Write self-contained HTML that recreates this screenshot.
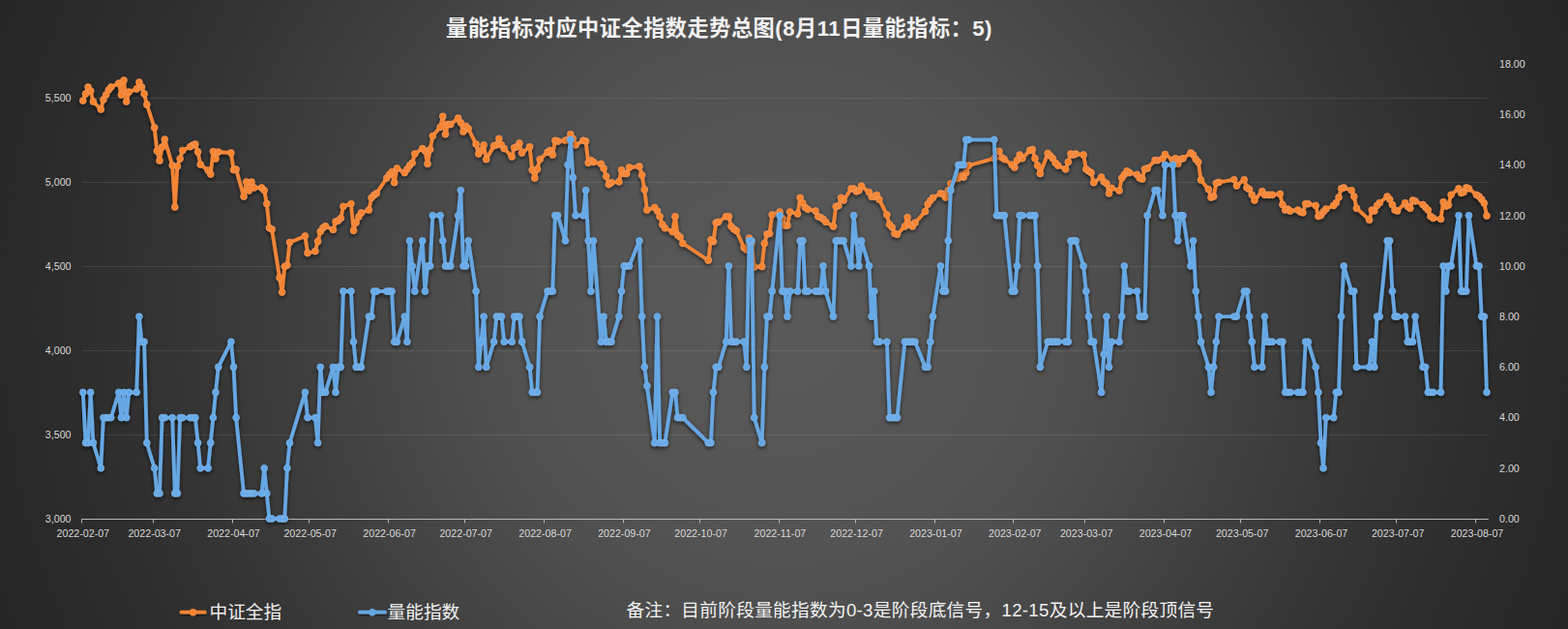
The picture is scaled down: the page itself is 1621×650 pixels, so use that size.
<!DOCTYPE html>
<html lang="zh"><head><meta charset="utf-8"><title>量能指标对应中证全指数走势总图</title>
<style>
html,body{margin:0;padding:0;background:#262626;}
body{width:1621px;height:650px;overflow:hidden;font-family:"Liberation Sans",sans-serif;}
#chart{position:relative;width:1621px;height:650px;background:radial-gradient(circle farthest-corner at 50% 50%,rgb(89,89,89) 0%,rgb(89,89,89) 4%,rgb(88,88,88) 8%,rgb(87,87,87) 12%,rgb(86,86,86) 16%,rgb(85,85,85) 20%,rgb(84,84,84) 24%,rgb(83,83,83) 28%,rgb(81,81,81) 32%,rgb(79,79,79) 36%,rgb(76,76,76) 40%,rgb(73,73,73) 44%,rgb(70,70,70) 48%,rgb(67,67,67) 52%,rgb(64,64,64) 56%,rgb(61,61,61) 60%,rgb(58,58,58) 64%,rgb(55,55,55) 68%,rgb(52,52,52) 72%,rgb(50,50,50) 76%,rgb(47,47,47) 80%,rgb(45,45,45) 84%,rgb(43,43,43) 88%,rgb(41,41,41) 92%,rgb(40,40,40) 96%,rgb(38,38,38) 100%);}
#chart svg{position:absolute;left:0;top:0;display:block}
.sr{position:absolute;left:0;top:0;width:1px;height:1px;overflow:hidden;opacity:0;font-size:1px;color:transparent}
</style></head><body>
<div id="chart">
<div class="sr"><h1>量能指标对应中证全指数走势总图(8月11日量能指标：5)</h1><p>中证全指 量能指数</p><p>备注：目前阶段量能指数为0-3是阶段底信号，12-15及以上是阶段顶信号</p></div>
<svg width="1621" height="650" viewBox="0 0 1621 650" role="img" aria-label="量能指标对应中证全指数走势总图">
<defs><filter id="sh" x="-2%" y="-5%" width="104%" height="112%"><feGaussianBlur in="SourceAlpha" stdDeviation="2"/><feOffset dx="0" dy="2"/><feComponentTransfer><feFuncA type="linear" slope="0.63"/></feComponentTransfer><feMerge><feMergeNode/><feMergeNode in="SourceGraphic"/></feMerge></filter></defs>
<path d="M84.5 449.5H1538.9M84.5 362.5H1538.9M84.5 275.5H1538.9M84.5 188.5H1538.9M84.5 101.5H1538.9" stroke="#f2f2f2" stroke-opacity="0.1" stroke-width="1" fill="none"/>
<path d="M84.5 536.5H1538.9M84.5 536.5v4M158.5 536.5v4M240.5 536.5v4M319.5 536.5v4M401.5 536.5v4M480.5 536.5v4M562.5 536.5v4M644.5 536.5v4M723.5 536.5v4M805.5 536.5v4M884.5 536.5v4M966.5 536.5v4M1047.5 536.5v4M1121.5 536.5v4M1203.5 536.5v4M1282.5 536.5v4M1364.5 536.5v4M1443.5 536.5v4M1525.5 536.5v4" stroke="#b8b8b8" stroke-width="1" fill="none"/>
<g font-family="Liberation Sans, sans-serif" font-size="10.67" fill="#d9d9d9">
<text x="73.5" y="539.8" text-anchor="end">3,000</text>
<text x="73.5" y="452.8" text-anchor="end">3,500</text>
<text x="73.5" y="365.8" text-anchor="end">4,000</text>
<text x="73.5" y="278.8" text-anchor="end">4,500</text>
<text x="73.5" y="191.8" text-anchor="end">5,000</text>
<text x="73.5" y="104.8" text-anchor="end">5,500</text>
<text x="1550" y="539.8">0.00</text>
<text x="1550" y="487.6">2.00</text>
<text x="1550" y="435.4">4.00</text>
<text x="1550" y="383.1">6.00</text>
<text x="1550" y="330.9">8.00</text>
<text x="1550" y="278.7">10.00</text>
<text x="1550" y="226.5">12.00</text>
<text x="1550" y="174.2">14.00</text>
<text x="1550" y="122">16.00</text>
<text x="1550" y="69.8">18.00</text>
<text x="85.8" y="555" text-anchor="middle">2022-02-07</text>
<text x="159.7" y="555" text-anchor="middle">2022-03-07</text>
<text x="241.5" y="555" text-anchor="middle">2022-04-07</text>
<text x="320.7" y="555" text-anchor="middle">2022-05-07</text>
<text x="402.6" y="555" text-anchor="middle">2022-06-07</text>
<text x="481.7" y="555" text-anchor="middle">2022-07-07</text>
<text x="563.6" y="555" text-anchor="middle">2022-08-07</text>
<text x="645.4" y="555" text-anchor="middle">2022-09-07</text>
<text x="724.6" y="555" text-anchor="middle">2022-10-07</text>
<text x="806.4" y="555" text-anchor="middle">2022-11-07</text>
<text x="885.6" y="555" text-anchor="middle">2022-12-07</text>
<text x="967.4" y="555" text-anchor="middle">2023-01-07</text>
<text x="1049.3" y="555" text-anchor="middle">2023-02-07</text>
<text x="1123.2" y="555" text-anchor="middle">2023-03-07</text>
<text x="1205" y="555" text-anchor="middle">2023-04-07</text>
<text x="1284.2" y="555" text-anchor="middle">2023-05-07</text>
<text x="1366" y="555" text-anchor="middle">2023-06-07</text>
<text x="1445.2" y="555" text-anchor="middle">2023-07-07</text>
<text x="1527" y="555" text-anchor="middle">2023-08-07</text>
</g>
<g filter="url(#sh)">
<polyline points="85.8,104 88.5,97 91.1,90 93.7,94 96.4,105 104.3,113 106.9,103 109.6,98 112.2,93 114.8,90 122.8,86 125.4,98 128,83 130.7,105 133.3,95 141.2,92 143.9,85 146.5,90 149.1,97 151.8,108 159.7,132 162.3,156 165,166 167.6,152 170.3,144 178.2,171 180.8,214 183.4,172 186.1,164 188.7,155.5 196.6,151.6 199.3,150 201.9,149 204.6,157 207.2,170 215.1,176 217.7,180 220.4,156.5 223,164 225.7,157 238.9,158 241.5,175.5 244.1,175 252,203 254.7,188 257.3,197 260,188 262.6,194 270.5,194 273.2,196.7 275.8,210.5 278.4,235.5 281.1,237 289,287 291.6,302 294.3,275.4 296.9,274 299.5,250.4 315.4,243.9 318,261.5 325.9,259.6 328.6,249.4 331.2,239.3 333.8,235.5 336.5,233.7 344.4,237.4 347,229 349.7,228 352.3,225.5 354.9,213.3 362.9,210.6 365.5,238.3 368.1,230 370.8,224 373.4,220 381.3,217 384,204.4 386.6,201.7 389.2,199.8 399.8,184 402.4,180.4 405.1,177.6 407.7,188.7 410.4,173.9 418.3,178.5 420.9,174.8 423.5,171 426.2,168.3 428.8,159 436.7,153.5 439.4,156 442,169.3 444.7,154.4 447.3,140.6 455.2,131.3 457.8,120.2 460.5,138.7 463.1,128.5 465.8,128.5 473.7,122 476.3,126.7 479,136 481.6,130.4 484.2,133 492.1,148.9 494.8,159 497.4,155.4 500.1,149.8 502.7,164.6 510.6,150.7 513.3,149.8 515.9,143.3 518.5,149.8 521.2,153.5 529.1,161.9 531.7,152.6 534.4,151.7 537,148 539.6,158 547.6,151.7 550.2,175.7 552.8,184 555.5,174.8 558.1,164.6 566,157.2 568.7,155.4 571.3,160 573.9,145.2 576.6,146 584.5,145.2 587.1,144.3 589.8,138.7 592.4,143.3 595.1,149.8 603,145.2 605.6,146 608.2,168.3 610.9,165.6 613.5,167.4 621.4,169.3 624.1,173.9 626.7,182.2 629.4,190.6 632,188.7 639.9,187.8 642.5,175.7 645.2,179.4 647.8,179.4 650.5,173 661,172 663.7,181 666.3,196 668.9,217 676.8,214.4 679.5,218 682.1,223.7 684.8,232 687.4,235.7 695.3,239.4 698,223.7 700.6,243 703.2,245 705.9,251.5 732.3,269 734.9,247.8 737.5,249.6 740.2,230.2 742.8,229.3 750.7,223.7 753.4,223.7 756,233.9 758.6,236.7 761.3,238.5 769.2,256 771.8,258 774.5,246 777.1,252 779.7,276 787.7,275.5 790.3,251.5 792.9,242 795.6,241.3 798.2,221.9 806.1,219 808.8,225.6 811.4,233 814,233 816.7,219 824.6,221 827.2,204.3 829.9,209.8 832.5,214.4 835.2,216.3 843.1,218 845.7,223.7 848.3,224.6 851,226.5 853.6,229.3 861.5,233.9 864.2,213.5 866.8,212.6 869.5,204.3 872.1,207 880,195 882.6,195 885.3,197.8 887.9,196.9 890.6,192.2 898.5,198.7 901.1,203.3 903.8,203.3 906.4,201.5 909,206.1 916.9,221.9 919.6,232 922.2,234.8 924.9,241.3 927.5,242.2 935.4,233.9 938.1,224.6 940.7,232 943.3,233.9 946,230.2 956.5,218.5 959.2,211 961.8,207.2 964.4,204.4 972.4,199.8 975,200.7 977.6,204 980.3,197 982.9,189.6 990.8,184 993.5,181.3 996.1,183 998.7,178.5 1001.4,171 1027.8,163.7 1030.4,156.3 1033,156.3 1035.7,162.8 1038.3,164.6 1046.2,170.2 1048.9,173 1051.5,165.6 1054.1,160 1056.8,163.7 1064.7,155.4 1067.3,154.4 1070,163.7 1072.6,171 1075.3,179.4 1083.2,158.5 1085.8,161 1088.5,163.7 1091.1,168.3 1093.7,171 1101.6,174.8 1104.3,167.4 1106.9,159 1109.6,160 1112.2,159 1120.1,160 1122.8,174.8 1125.4,176.7 1128,178.5 1130.7,188.7 1138.6,183 1141.2,187.8 1143.9,189.6 1146.5,199.8 1149.1,194.3 1157.1,197 1159.7,184 1162.3,180.4 1165,176.7 1167.6,178.5 1175.5,180.4 1178.2,184 1180.8,185 1183.4,174.8 1186.1,173.9 1194,165.6 1196.6,165.6 1201.9,164 1204.5,159.5 1212.5,165.6 1215.1,163.7 1217.7,169.3 1220.4,164.6 1223,163.7 1230.9,158 1233.6,160 1236.2,164.6 1238.8,167.4 1241.5,186 1249.4,195.7 1252,204 1254.7,203 1257.3,189.3 1260,188.3 1275.8,185.6 1278.4,192 1286.3,185.6 1289,193.9 1291.6,195.7 1294.3,201.3 1296.9,206.9 1304.8,197.6 1307.4,201.3 1310.1,201.3 1312.7,201.3 1315.4,201.3 1323.3,200.4 1325.9,211.5 1328.6,217 1331.2,216 1333.8,218 1341.7,217 1344.4,218.9 1347,219.8 1349.7,210.6 1352.3,210.6 1360.2,212.4 1362.9,223.5 1365.5,222.6 1368.1,218.9 1370.8,216 1378.7,212.4 1381.3,209.6 1384,204 1386.6,194.8 1389.2,193.9 1397.2,196.7 1399.8,203 1402.4,215.2 1415.6,227.2 1418.3,217 1420.9,218 1423.5,212.4 1426.2,209.6 1434.1,203 1436.7,206 1439.4,211.5 1442,217 1444.6,218 1452.6,209.6 1455.2,213.3 1457.8,215.2 1460.5,206.9 1463.1,207.8 1471,211.5 1473.7,214.3 1476.3,217 1478.9,223.5 1481.6,225.4 1489.5,226.3 1492.1,208.7 1494.8,213 1497.4,212 1500.1,201.3 1508,194.8 1510.6,199.4 1513.2,198.5 1515.9,193.9 1518.5,194.8 1526.4,201.3 1529.1,203 1531.7,206 1534.4,210 1537,223" fill="none" stroke="#f28536" stroke-width="3.8" stroke-linejoin="round" stroke-linecap="round"/>
<path d="M82.4 104a3.4 3.4 0 1 0 6.8 0a3.4 3.4 0 1 0 -6.8 0M85.1 97a3.4 3.4 0 1 0 6.8 0a3.4 3.4 0 1 0 -6.8 0M87.7 90a3.4 3.4 0 1 0 6.8 0a3.4 3.4 0 1 0 -6.8 0M90.3 94a3.4 3.4 0 1 0 6.8 0a3.4 3.4 0 1 0 -6.8 0M93 105a3.4 3.4 0 1 0 6.8 0a3.4 3.4 0 1 0 -6.8 0M100.9 113a3.4 3.4 0 1 0 6.8 0a3.4 3.4 0 1 0 -6.8 0M103.5 103a3.4 3.4 0 1 0 6.8 0a3.4 3.4 0 1 0 -6.8 0M106.2 98a3.4 3.4 0 1 0 6.8 0a3.4 3.4 0 1 0 -6.8 0M108.8 93a3.4 3.4 0 1 0 6.8 0a3.4 3.4 0 1 0 -6.8 0M111.4 90a3.4 3.4 0 1 0 6.8 0a3.4 3.4 0 1 0 -6.8 0M119.4 86a3.4 3.4 0 1 0 6.8 0a3.4 3.4 0 1 0 -6.8 0M122 98a3.4 3.4 0 1 0 6.8 0a3.4 3.4 0 1 0 -6.8 0M124.6 83a3.4 3.4 0 1 0 6.8 0a3.4 3.4 0 1 0 -6.8 0M127.3 105a3.4 3.4 0 1 0 6.8 0a3.4 3.4 0 1 0 -6.8 0M129.9 95a3.4 3.4 0 1 0 6.8 0a3.4 3.4 0 1 0 -6.8 0M137.8 92a3.4 3.4 0 1 0 6.8 0a3.4 3.4 0 1 0 -6.8 0M140.5 85a3.4 3.4 0 1 0 6.8 0a3.4 3.4 0 1 0 -6.8 0M143.1 90a3.4 3.4 0 1 0 6.8 0a3.4 3.4 0 1 0 -6.8 0M145.7 97a3.4 3.4 0 1 0 6.8 0a3.4 3.4 0 1 0 -6.8 0M148.4 108a3.4 3.4 0 1 0 6.8 0a3.4 3.4 0 1 0 -6.8 0M156.3 132a3.4 3.4 0 1 0 6.8 0a3.4 3.4 0 1 0 -6.8 0M158.9 156a3.4 3.4 0 1 0 6.8 0a3.4 3.4 0 1 0 -6.8 0M161.6 166a3.4 3.4 0 1 0 6.8 0a3.4 3.4 0 1 0 -6.8 0M164.2 152a3.4 3.4 0 1 0 6.8 0a3.4 3.4 0 1 0 -6.8 0M166.9 144a3.4 3.4 0 1 0 6.8 0a3.4 3.4 0 1 0 -6.8 0M174.8 171a3.4 3.4 0 1 0 6.8 0a3.4 3.4 0 1 0 -6.8 0M177.4 214a3.4 3.4 0 1 0 6.8 0a3.4 3.4 0 1 0 -6.8 0M180 172a3.4 3.4 0 1 0 6.8 0a3.4 3.4 0 1 0 -6.8 0M182.7 164a3.4 3.4 0 1 0 6.8 0a3.4 3.4 0 1 0 -6.8 0M185.3 155.5a3.4 3.4 0 1 0 6.8 0a3.4 3.4 0 1 0 -6.8 0M193.2 151.6a3.4 3.4 0 1 0 6.8 0a3.4 3.4 0 1 0 -6.8 0M195.9 150a3.4 3.4 0 1 0 6.8 0a3.4 3.4 0 1 0 -6.8 0M198.5 149a3.4 3.4 0 1 0 6.8 0a3.4 3.4 0 1 0 -6.8 0M201.2 157a3.4 3.4 0 1 0 6.8 0a3.4 3.4 0 1 0 -6.8 0M203.8 170a3.4 3.4 0 1 0 6.8 0a3.4 3.4 0 1 0 -6.8 0M211.7 176a3.4 3.4 0 1 0 6.8 0a3.4 3.4 0 1 0 -6.8 0M214.3 180a3.4 3.4 0 1 0 6.8 0a3.4 3.4 0 1 0 -6.8 0M217 156.5a3.4 3.4 0 1 0 6.8 0a3.4 3.4 0 1 0 -6.8 0M219.6 164a3.4 3.4 0 1 0 6.8 0a3.4 3.4 0 1 0 -6.8 0M222.3 157a3.4 3.4 0 1 0 6.8 0a3.4 3.4 0 1 0 -6.8 0M235.5 158a3.4 3.4 0 1 0 6.8 0a3.4 3.4 0 1 0 -6.8 0M238.1 175.5a3.4 3.4 0 1 0 6.8 0a3.4 3.4 0 1 0 -6.8 0M240.7 175a3.4 3.4 0 1 0 6.8 0a3.4 3.4 0 1 0 -6.8 0M248.6 203a3.4 3.4 0 1 0 6.8 0a3.4 3.4 0 1 0 -6.8 0M251.3 188a3.4 3.4 0 1 0 6.8 0a3.4 3.4 0 1 0 -6.8 0M253.9 197a3.4 3.4 0 1 0 6.8 0a3.4 3.4 0 1 0 -6.8 0M256.6 188a3.4 3.4 0 1 0 6.8 0a3.4 3.4 0 1 0 -6.8 0M259.2 194a3.4 3.4 0 1 0 6.8 0a3.4 3.4 0 1 0 -6.8 0M267.1 194a3.4 3.4 0 1 0 6.8 0a3.4 3.4 0 1 0 -6.8 0M269.8 196.7a3.4 3.4 0 1 0 6.8 0a3.4 3.4 0 1 0 -6.8 0M272.4 210.5a3.4 3.4 0 1 0 6.8 0a3.4 3.4 0 1 0 -6.8 0M275 235.5a3.4 3.4 0 1 0 6.8 0a3.4 3.4 0 1 0 -6.8 0M277.7 237a3.4 3.4 0 1 0 6.8 0a3.4 3.4 0 1 0 -6.8 0M285.6 287a3.4 3.4 0 1 0 6.8 0a3.4 3.4 0 1 0 -6.8 0M288.2 302a3.4 3.4 0 1 0 6.8 0a3.4 3.4 0 1 0 -6.8 0M290.9 275.4a3.4 3.4 0 1 0 6.8 0a3.4 3.4 0 1 0 -6.8 0M293.5 274a3.4 3.4 0 1 0 6.8 0a3.4 3.4 0 1 0 -6.8 0M296.1 250.4a3.4 3.4 0 1 0 6.8 0a3.4 3.4 0 1 0 -6.8 0M312 243.9a3.4 3.4 0 1 0 6.8 0a3.4 3.4 0 1 0 -6.8 0M314.6 261.5a3.4 3.4 0 1 0 6.8 0a3.4 3.4 0 1 0 -6.8 0M322.5 259.6a3.4 3.4 0 1 0 6.8 0a3.4 3.4 0 1 0 -6.8 0M325.2 249.4a3.4 3.4 0 1 0 6.8 0a3.4 3.4 0 1 0 -6.8 0M327.8 239.3a3.4 3.4 0 1 0 6.8 0a3.4 3.4 0 1 0 -6.8 0M330.4 235.5a3.4 3.4 0 1 0 6.8 0a3.4 3.4 0 1 0 -6.8 0M333.1 233.7a3.4 3.4 0 1 0 6.8 0a3.4 3.4 0 1 0 -6.8 0M341 237.4a3.4 3.4 0 1 0 6.8 0a3.4 3.4 0 1 0 -6.8 0M343.6 229a3.4 3.4 0 1 0 6.8 0a3.4 3.4 0 1 0 -6.8 0M346.3 228a3.4 3.4 0 1 0 6.8 0a3.4 3.4 0 1 0 -6.8 0M348.9 225.5a3.4 3.4 0 1 0 6.8 0a3.4 3.4 0 1 0 -6.8 0M351.5 213.3a3.4 3.4 0 1 0 6.8 0a3.4 3.4 0 1 0 -6.8 0M359.5 210.6a3.4 3.4 0 1 0 6.8 0a3.4 3.4 0 1 0 -6.8 0M362.1 238.3a3.4 3.4 0 1 0 6.8 0a3.4 3.4 0 1 0 -6.8 0M364.7 230a3.4 3.4 0 1 0 6.8 0a3.4 3.4 0 1 0 -6.8 0M367.4 224a3.4 3.4 0 1 0 6.8 0a3.4 3.4 0 1 0 -6.8 0M370 220a3.4 3.4 0 1 0 6.8 0a3.4 3.4 0 1 0 -6.8 0M377.9 217a3.4 3.4 0 1 0 6.8 0a3.4 3.4 0 1 0 -6.8 0M380.6 204.4a3.4 3.4 0 1 0 6.8 0a3.4 3.4 0 1 0 -6.8 0M383.2 201.7a3.4 3.4 0 1 0 6.8 0a3.4 3.4 0 1 0 -6.8 0M385.8 199.8a3.4 3.4 0 1 0 6.8 0a3.4 3.4 0 1 0 -6.8 0M396.4 184a3.4 3.4 0 1 0 6.8 0a3.4 3.4 0 1 0 -6.8 0M399 180.4a3.4 3.4 0 1 0 6.8 0a3.4 3.4 0 1 0 -6.8 0M401.7 177.6a3.4 3.4 0 1 0 6.8 0a3.4 3.4 0 1 0 -6.8 0M404.3 188.7a3.4 3.4 0 1 0 6.8 0a3.4 3.4 0 1 0 -6.8 0M407 173.9a3.4 3.4 0 1 0 6.8 0a3.4 3.4 0 1 0 -6.8 0M414.9 178.5a3.4 3.4 0 1 0 6.8 0a3.4 3.4 0 1 0 -6.8 0M417.5 174.8a3.4 3.4 0 1 0 6.8 0a3.4 3.4 0 1 0 -6.8 0M420.1 171a3.4 3.4 0 1 0 6.8 0a3.4 3.4 0 1 0 -6.8 0M422.8 168.3a3.4 3.4 0 1 0 6.8 0a3.4 3.4 0 1 0 -6.8 0M425.4 159a3.4 3.4 0 1 0 6.8 0a3.4 3.4 0 1 0 -6.8 0M433.3 153.5a3.4 3.4 0 1 0 6.8 0a3.4 3.4 0 1 0 -6.8 0M436 156a3.4 3.4 0 1 0 6.8 0a3.4 3.4 0 1 0 -6.8 0M438.6 169.3a3.4 3.4 0 1 0 6.8 0a3.4 3.4 0 1 0 -6.8 0M441.3 154.4a3.4 3.4 0 1 0 6.8 0a3.4 3.4 0 1 0 -6.8 0M443.9 140.6a3.4 3.4 0 1 0 6.8 0a3.4 3.4 0 1 0 -6.8 0M451.8 131.3a3.4 3.4 0 1 0 6.8 0a3.4 3.4 0 1 0 -6.8 0M454.4 120.2a3.4 3.4 0 1 0 6.8 0a3.4 3.4 0 1 0 -6.8 0M457.1 138.7a3.4 3.4 0 1 0 6.8 0a3.4 3.4 0 1 0 -6.8 0M459.7 128.5a3.4 3.4 0 1 0 6.8 0a3.4 3.4 0 1 0 -6.8 0M462.4 128.5a3.4 3.4 0 1 0 6.8 0a3.4 3.4 0 1 0 -6.8 0M470.3 122a3.4 3.4 0 1 0 6.8 0a3.4 3.4 0 1 0 -6.8 0M472.9 126.7a3.4 3.4 0 1 0 6.8 0a3.4 3.4 0 1 0 -6.8 0M475.6 136a3.4 3.4 0 1 0 6.8 0a3.4 3.4 0 1 0 -6.8 0M478.2 130.4a3.4 3.4 0 1 0 6.8 0a3.4 3.4 0 1 0 -6.8 0M480.8 133a3.4 3.4 0 1 0 6.8 0a3.4 3.4 0 1 0 -6.8 0M488.7 148.9a3.4 3.4 0 1 0 6.8 0a3.4 3.4 0 1 0 -6.8 0M491.4 159a3.4 3.4 0 1 0 6.8 0a3.4 3.4 0 1 0 -6.8 0M494 155.4a3.4 3.4 0 1 0 6.8 0a3.4 3.4 0 1 0 -6.8 0M496.7 149.8a3.4 3.4 0 1 0 6.8 0a3.4 3.4 0 1 0 -6.8 0M499.3 164.6a3.4 3.4 0 1 0 6.8 0a3.4 3.4 0 1 0 -6.8 0M507.2 150.7a3.4 3.4 0 1 0 6.8 0a3.4 3.4 0 1 0 -6.8 0M509.9 149.8a3.4 3.4 0 1 0 6.8 0a3.4 3.4 0 1 0 -6.8 0M512.5 143.3a3.4 3.4 0 1 0 6.8 0a3.4 3.4 0 1 0 -6.8 0M515.1 149.8a3.4 3.4 0 1 0 6.8 0a3.4 3.4 0 1 0 -6.8 0M517.8 153.5a3.4 3.4 0 1 0 6.8 0a3.4 3.4 0 1 0 -6.8 0M525.7 161.9a3.4 3.4 0 1 0 6.8 0a3.4 3.4 0 1 0 -6.8 0M528.3 152.6a3.4 3.4 0 1 0 6.8 0a3.4 3.4 0 1 0 -6.8 0M531 151.7a3.4 3.4 0 1 0 6.8 0a3.4 3.4 0 1 0 -6.8 0M533.6 148a3.4 3.4 0 1 0 6.8 0a3.4 3.4 0 1 0 -6.8 0M536.2 158a3.4 3.4 0 1 0 6.8 0a3.4 3.4 0 1 0 -6.8 0M544.2 151.7a3.4 3.4 0 1 0 6.8 0a3.4 3.4 0 1 0 -6.8 0M546.8 175.7a3.4 3.4 0 1 0 6.8 0a3.4 3.4 0 1 0 -6.8 0M549.4 184a3.4 3.4 0 1 0 6.8 0a3.4 3.4 0 1 0 -6.8 0M552.1 174.8a3.4 3.4 0 1 0 6.8 0a3.4 3.4 0 1 0 -6.8 0M554.7 164.6a3.4 3.4 0 1 0 6.8 0a3.4 3.4 0 1 0 -6.8 0M562.6 157.2a3.4 3.4 0 1 0 6.8 0a3.4 3.4 0 1 0 -6.8 0M565.3 155.4a3.4 3.4 0 1 0 6.8 0a3.4 3.4 0 1 0 -6.8 0M567.9 160a3.4 3.4 0 1 0 6.8 0a3.4 3.4 0 1 0 -6.8 0M570.5 145.2a3.4 3.4 0 1 0 6.8 0a3.4 3.4 0 1 0 -6.8 0M573.2 146a3.4 3.4 0 1 0 6.8 0a3.4 3.4 0 1 0 -6.8 0M581.1 145.2a3.4 3.4 0 1 0 6.8 0a3.4 3.4 0 1 0 -6.8 0M583.7 144.3a3.4 3.4 0 1 0 6.8 0a3.4 3.4 0 1 0 -6.8 0M586.4 138.7a3.4 3.4 0 1 0 6.8 0a3.4 3.4 0 1 0 -6.8 0M589 143.3a3.4 3.4 0 1 0 6.8 0a3.4 3.4 0 1 0 -6.8 0M591.7 149.8a3.4 3.4 0 1 0 6.8 0a3.4 3.4 0 1 0 -6.8 0M599.6 145.2a3.4 3.4 0 1 0 6.8 0a3.4 3.4 0 1 0 -6.8 0M602.2 146a3.4 3.4 0 1 0 6.8 0a3.4 3.4 0 1 0 -6.8 0M604.8 168.3a3.4 3.4 0 1 0 6.8 0a3.4 3.4 0 1 0 -6.8 0M607.5 165.6a3.4 3.4 0 1 0 6.8 0a3.4 3.4 0 1 0 -6.8 0M610.1 167.4a3.4 3.4 0 1 0 6.8 0a3.4 3.4 0 1 0 -6.8 0M618 169.3a3.4 3.4 0 1 0 6.8 0a3.4 3.4 0 1 0 -6.8 0M620.7 173.9a3.4 3.4 0 1 0 6.8 0a3.4 3.4 0 1 0 -6.8 0M623.3 182.2a3.4 3.4 0 1 0 6.8 0a3.4 3.4 0 1 0 -6.8 0M626 190.6a3.4 3.4 0 1 0 6.8 0a3.4 3.4 0 1 0 -6.8 0M628.6 188.7a3.4 3.4 0 1 0 6.8 0a3.4 3.4 0 1 0 -6.8 0M636.5 187.8a3.4 3.4 0 1 0 6.8 0a3.4 3.4 0 1 0 -6.8 0M639.1 175.7a3.4 3.4 0 1 0 6.8 0a3.4 3.4 0 1 0 -6.8 0M641.8 179.4a3.4 3.4 0 1 0 6.8 0a3.4 3.4 0 1 0 -6.8 0M644.4 179.4a3.4 3.4 0 1 0 6.8 0a3.4 3.4 0 1 0 -6.8 0M647.1 173a3.4 3.4 0 1 0 6.8 0a3.4 3.4 0 1 0 -6.8 0M657.6 172a3.4 3.4 0 1 0 6.8 0a3.4 3.4 0 1 0 -6.8 0M660.3 181a3.4 3.4 0 1 0 6.8 0a3.4 3.4 0 1 0 -6.8 0M662.9 196a3.4 3.4 0 1 0 6.8 0a3.4 3.4 0 1 0 -6.8 0M665.5 217a3.4 3.4 0 1 0 6.8 0a3.4 3.4 0 1 0 -6.8 0M673.4 214.4a3.4 3.4 0 1 0 6.8 0a3.4 3.4 0 1 0 -6.8 0M676.1 218a3.4 3.4 0 1 0 6.8 0a3.4 3.4 0 1 0 -6.8 0M678.7 223.7a3.4 3.4 0 1 0 6.8 0a3.4 3.4 0 1 0 -6.8 0M681.4 232a3.4 3.4 0 1 0 6.8 0a3.4 3.4 0 1 0 -6.8 0M684 235.7a3.4 3.4 0 1 0 6.8 0a3.4 3.4 0 1 0 -6.8 0M691.9 239.4a3.4 3.4 0 1 0 6.8 0a3.4 3.4 0 1 0 -6.8 0M694.6 223.7a3.4 3.4 0 1 0 6.8 0a3.4 3.4 0 1 0 -6.8 0M697.2 243a3.4 3.4 0 1 0 6.8 0a3.4 3.4 0 1 0 -6.8 0M699.8 245a3.4 3.4 0 1 0 6.8 0a3.4 3.4 0 1 0 -6.8 0M702.5 251.5a3.4 3.4 0 1 0 6.8 0a3.4 3.4 0 1 0 -6.8 0M728.9 269a3.4 3.4 0 1 0 6.8 0a3.4 3.4 0 1 0 -6.8 0M731.5 247.8a3.4 3.4 0 1 0 6.8 0a3.4 3.4 0 1 0 -6.8 0M734.1 249.6a3.4 3.4 0 1 0 6.8 0a3.4 3.4 0 1 0 -6.8 0M736.8 230.2a3.4 3.4 0 1 0 6.8 0a3.4 3.4 0 1 0 -6.8 0M739.4 229.3a3.4 3.4 0 1 0 6.8 0a3.4 3.4 0 1 0 -6.8 0M747.3 223.7a3.4 3.4 0 1 0 6.8 0a3.4 3.4 0 1 0 -6.8 0M750 223.7a3.4 3.4 0 1 0 6.8 0a3.4 3.4 0 1 0 -6.8 0M752.6 233.9a3.4 3.4 0 1 0 6.8 0a3.4 3.4 0 1 0 -6.8 0M755.2 236.7a3.4 3.4 0 1 0 6.8 0a3.4 3.4 0 1 0 -6.8 0M757.9 238.5a3.4 3.4 0 1 0 6.8 0a3.4 3.4 0 1 0 -6.8 0M765.8 256a3.4 3.4 0 1 0 6.8 0a3.4 3.4 0 1 0 -6.8 0M768.4 258a3.4 3.4 0 1 0 6.8 0a3.4 3.4 0 1 0 -6.8 0M771.1 246a3.4 3.4 0 1 0 6.8 0a3.4 3.4 0 1 0 -6.8 0M773.7 252a3.4 3.4 0 1 0 6.8 0a3.4 3.4 0 1 0 -6.8 0M776.3 276a3.4 3.4 0 1 0 6.8 0a3.4 3.4 0 1 0 -6.8 0M784.3 275.5a3.4 3.4 0 1 0 6.8 0a3.4 3.4 0 1 0 -6.8 0M786.9 251.5a3.4 3.4 0 1 0 6.8 0a3.4 3.4 0 1 0 -6.8 0M789.5 242a3.4 3.4 0 1 0 6.8 0a3.4 3.4 0 1 0 -6.8 0M792.2 241.3a3.4 3.4 0 1 0 6.8 0a3.4 3.4 0 1 0 -6.8 0M794.8 221.9a3.4 3.4 0 1 0 6.8 0a3.4 3.4 0 1 0 -6.8 0M802.7 219a3.4 3.4 0 1 0 6.8 0a3.4 3.4 0 1 0 -6.8 0M805.4 225.6a3.4 3.4 0 1 0 6.8 0a3.4 3.4 0 1 0 -6.8 0M808 233a3.4 3.4 0 1 0 6.8 0a3.4 3.4 0 1 0 -6.8 0M810.6 233a3.4 3.4 0 1 0 6.8 0a3.4 3.4 0 1 0 -6.8 0M813.3 219a3.4 3.4 0 1 0 6.8 0a3.4 3.4 0 1 0 -6.8 0M821.2 221a3.4 3.4 0 1 0 6.8 0a3.4 3.4 0 1 0 -6.8 0M823.8 204.3a3.4 3.4 0 1 0 6.8 0a3.4 3.4 0 1 0 -6.8 0M826.5 209.8a3.4 3.4 0 1 0 6.8 0a3.4 3.4 0 1 0 -6.8 0M829.1 214.4a3.4 3.4 0 1 0 6.8 0a3.4 3.4 0 1 0 -6.8 0M831.8 216.3a3.4 3.4 0 1 0 6.8 0a3.4 3.4 0 1 0 -6.8 0M839.7 218a3.4 3.4 0 1 0 6.8 0a3.4 3.4 0 1 0 -6.8 0M842.3 223.7a3.4 3.4 0 1 0 6.8 0a3.4 3.4 0 1 0 -6.8 0M844.9 224.6a3.4 3.4 0 1 0 6.8 0a3.4 3.4 0 1 0 -6.8 0M847.6 226.5a3.4 3.4 0 1 0 6.8 0a3.4 3.4 0 1 0 -6.8 0M850.2 229.3a3.4 3.4 0 1 0 6.8 0a3.4 3.4 0 1 0 -6.8 0M858.1 233.9a3.4 3.4 0 1 0 6.8 0a3.4 3.4 0 1 0 -6.8 0M860.8 213.5a3.4 3.4 0 1 0 6.8 0a3.4 3.4 0 1 0 -6.8 0M863.4 212.6a3.4 3.4 0 1 0 6.8 0a3.4 3.4 0 1 0 -6.8 0M866.1 204.3a3.4 3.4 0 1 0 6.8 0a3.4 3.4 0 1 0 -6.8 0M868.7 207a3.4 3.4 0 1 0 6.8 0a3.4 3.4 0 1 0 -6.8 0M876.6 195a3.4 3.4 0 1 0 6.8 0a3.4 3.4 0 1 0 -6.8 0M879.2 195a3.4 3.4 0 1 0 6.8 0a3.4 3.4 0 1 0 -6.8 0M881.9 197.8a3.4 3.4 0 1 0 6.8 0a3.4 3.4 0 1 0 -6.8 0M884.5 196.9a3.4 3.4 0 1 0 6.8 0a3.4 3.4 0 1 0 -6.8 0M887.2 192.2a3.4 3.4 0 1 0 6.8 0a3.4 3.4 0 1 0 -6.8 0M895.1 198.7a3.4 3.4 0 1 0 6.8 0a3.4 3.4 0 1 0 -6.8 0M897.7 203.3a3.4 3.4 0 1 0 6.8 0a3.4 3.4 0 1 0 -6.8 0M900.4 203.3a3.4 3.4 0 1 0 6.8 0a3.4 3.4 0 1 0 -6.8 0M903 201.5a3.4 3.4 0 1 0 6.8 0a3.4 3.4 0 1 0 -6.8 0M905.6 206.1a3.4 3.4 0 1 0 6.8 0a3.4 3.4 0 1 0 -6.8 0M913.5 221.9a3.4 3.4 0 1 0 6.8 0a3.4 3.4 0 1 0 -6.8 0M916.2 232a3.4 3.4 0 1 0 6.8 0a3.4 3.4 0 1 0 -6.8 0M918.8 234.8a3.4 3.4 0 1 0 6.8 0a3.4 3.4 0 1 0 -6.8 0M921.5 241.3a3.4 3.4 0 1 0 6.8 0a3.4 3.4 0 1 0 -6.8 0M924.1 242.2a3.4 3.4 0 1 0 6.8 0a3.4 3.4 0 1 0 -6.8 0M932 233.9a3.4 3.4 0 1 0 6.8 0a3.4 3.4 0 1 0 -6.8 0M934.7 224.6a3.4 3.4 0 1 0 6.8 0a3.4 3.4 0 1 0 -6.8 0M937.3 232a3.4 3.4 0 1 0 6.8 0a3.4 3.4 0 1 0 -6.8 0M939.9 233.9a3.4 3.4 0 1 0 6.8 0a3.4 3.4 0 1 0 -6.8 0M942.6 230.2a3.4 3.4 0 1 0 6.8 0a3.4 3.4 0 1 0 -6.8 0M953.1 218.5a3.4 3.4 0 1 0 6.8 0a3.4 3.4 0 1 0 -6.8 0M955.8 211a3.4 3.4 0 1 0 6.8 0a3.4 3.4 0 1 0 -6.8 0M958.4 207.2a3.4 3.4 0 1 0 6.8 0a3.4 3.4 0 1 0 -6.8 0M961 204.4a3.4 3.4 0 1 0 6.8 0a3.4 3.4 0 1 0 -6.8 0M969 199.8a3.4 3.4 0 1 0 6.8 0a3.4 3.4 0 1 0 -6.8 0M971.6 200.7a3.4 3.4 0 1 0 6.8 0a3.4 3.4 0 1 0 -6.8 0M974.2 204a3.4 3.4 0 1 0 6.8 0a3.4 3.4 0 1 0 -6.8 0M976.9 197a3.4 3.4 0 1 0 6.8 0a3.4 3.4 0 1 0 -6.8 0M979.5 189.6a3.4 3.4 0 1 0 6.8 0a3.4 3.4 0 1 0 -6.8 0M987.4 184a3.4 3.4 0 1 0 6.8 0a3.4 3.4 0 1 0 -6.8 0M990.1 181.3a3.4 3.4 0 1 0 6.8 0a3.4 3.4 0 1 0 -6.8 0M992.7 183a3.4 3.4 0 1 0 6.8 0a3.4 3.4 0 1 0 -6.8 0M995.3 178.5a3.4 3.4 0 1 0 6.8 0a3.4 3.4 0 1 0 -6.8 0M998 171a3.4 3.4 0 1 0 6.8 0a3.4 3.4 0 1 0 -6.8 0M1024.4 163.7a3.4 3.4 0 1 0 6.8 0a3.4 3.4 0 1 0 -6.8 0M1027 156.3a3.4 3.4 0 1 0 6.8 0a3.4 3.4 0 1 0 -6.8 0M1029.6 156.3a3.4 3.4 0 1 0 6.8 0a3.4 3.4 0 1 0 -6.8 0M1032.3 162.8a3.4 3.4 0 1 0 6.8 0a3.4 3.4 0 1 0 -6.8 0M1034.9 164.6a3.4 3.4 0 1 0 6.8 0a3.4 3.4 0 1 0 -6.8 0M1042.8 170.2a3.4 3.4 0 1 0 6.8 0a3.4 3.4 0 1 0 -6.8 0M1045.5 173a3.4 3.4 0 1 0 6.8 0a3.4 3.4 0 1 0 -6.8 0M1048.1 165.6a3.4 3.4 0 1 0 6.8 0a3.4 3.4 0 1 0 -6.8 0M1050.7 160a3.4 3.4 0 1 0 6.8 0a3.4 3.4 0 1 0 -6.8 0M1053.4 163.7a3.4 3.4 0 1 0 6.8 0a3.4 3.4 0 1 0 -6.8 0M1061.3 155.4a3.4 3.4 0 1 0 6.8 0a3.4 3.4 0 1 0 -6.8 0M1063.9 154.4a3.4 3.4 0 1 0 6.8 0a3.4 3.4 0 1 0 -6.8 0M1066.6 163.7a3.4 3.4 0 1 0 6.8 0a3.4 3.4 0 1 0 -6.8 0M1069.2 171a3.4 3.4 0 1 0 6.8 0a3.4 3.4 0 1 0 -6.8 0M1071.9 179.4a3.4 3.4 0 1 0 6.8 0a3.4 3.4 0 1 0 -6.8 0M1079.8 158.5a3.4 3.4 0 1 0 6.8 0a3.4 3.4 0 1 0 -6.8 0M1082.4 161a3.4 3.4 0 1 0 6.8 0a3.4 3.4 0 1 0 -6.8 0M1085 163.7a3.4 3.4 0 1 0 6.8 0a3.4 3.4 0 1 0 -6.8 0M1087.7 168.3a3.4 3.4 0 1 0 6.8 0a3.4 3.4 0 1 0 -6.8 0M1090.3 171a3.4 3.4 0 1 0 6.8 0a3.4 3.4 0 1 0 -6.8 0M1098.2 174.8a3.4 3.4 0 1 0 6.8 0a3.4 3.4 0 1 0 -6.8 0M1100.9 167.4a3.4 3.4 0 1 0 6.8 0a3.4 3.4 0 1 0 -6.8 0M1103.5 159a3.4 3.4 0 1 0 6.8 0a3.4 3.4 0 1 0 -6.8 0M1106.2 160a3.4 3.4 0 1 0 6.8 0a3.4 3.4 0 1 0 -6.8 0M1108.8 159a3.4 3.4 0 1 0 6.8 0a3.4 3.4 0 1 0 -6.8 0M1116.7 160a3.4 3.4 0 1 0 6.8 0a3.4 3.4 0 1 0 -6.8 0M1119.4 174.8a3.4 3.4 0 1 0 6.8 0a3.4 3.4 0 1 0 -6.8 0M1122 176.7a3.4 3.4 0 1 0 6.8 0a3.4 3.4 0 1 0 -6.8 0M1124.6 178.5a3.4 3.4 0 1 0 6.8 0a3.4 3.4 0 1 0 -6.8 0M1127.3 188.7a3.4 3.4 0 1 0 6.8 0a3.4 3.4 0 1 0 -6.8 0M1135.2 183a3.4 3.4 0 1 0 6.8 0a3.4 3.4 0 1 0 -6.8 0M1137.8 187.8a3.4 3.4 0 1 0 6.8 0a3.4 3.4 0 1 0 -6.8 0M1140.5 189.6a3.4 3.4 0 1 0 6.8 0a3.4 3.4 0 1 0 -6.8 0M1143.1 199.8a3.4 3.4 0 1 0 6.8 0a3.4 3.4 0 1 0 -6.8 0M1145.7 194.3a3.4 3.4 0 1 0 6.8 0a3.4 3.4 0 1 0 -6.8 0M1153.7 197a3.4 3.4 0 1 0 6.8 0a3.4 3.4 0 1 0 -6.8 0M1156.3 184a3.4 3.4 0 1 0 6.8 0a3.4 3.4 0 1 0 -6.8 0M1158.9 180.4a3.4 3.4 0 1 0 6.8 0a3.4 3.4 0 1 0 -6.8 0M1161.6 176.7a3.4 3.4 0 1 0 6.8 0a3.4 3.4 0 1 0 -6.8 0M1164.2 178.5a3.4 3.4 0 1 0 6.8 0a3.4 3.4 0 1 0 -6.8 0M1172.1 180.4a3.4 3.4 0 1 0 6.8 0a3.4 3.4 0 1 0 -6.8 0M1174.8 184a3.4 3.4 0 1 0 6.8 0a3.4 3.4 0 1 0 -6.8 0M1177.4 185a3.4 3.4 0 1 0 6.8 0a3.4 3.4 0 1 0 -6.8 0M1180 174.8a3.4 3.4 0 1 0 6.8 0a3.4 3.4 0 1 0 -6.8 0M1182.7 173.9a3.4 3.4 0 1 0 6.8 0a3.4 3.4 0 1 0 -6.8 0M1190.6 165.6a3.4 3.4 0 1 0 6.8 0a3.4 3.4 0 1 0 -6.8 0M1193.2 165.6a3.4 3.4 0 1 0 6.8 0a3.4 3.4 0 1 0 -6.8 0M1198.5 164a3.4 3.4 0 1 0 6.8 0a3.4 3.4 0 1 0 -6.8 0M1201.1 159.5a3.4 3.4 0 1 0 6.8 0a3.4 3.4 0 1 0 -6.8 0M1209.1 165.6a3.4 3.4 0 1 0 6.8 0a3.4 3.4 0 1 0 -6.8 0M1211.7 163.7a3.4 3.4 0 1 0 6.8 0a3.4 3.4 0 1 0 -6.8 0M1214.3 169.3a3.4 3.4 0 1 0 6.8 0a3.4 3.4 0 1 0 -6.8 0M1217 164.6a3.4 3.4 0 1 0 6.8 0a3.4 3.4 0 1 0 -6.8 0M1219.6 163.7a3.4 3.4 0 1 0 6.8 0a3.4 3.4 0 1 0 -6.8 0M1227.5 158a3.4 3.4 0 1 0 6.8 0a3.4 3.4 0 1 0 -6.8 0M1230.2 160a3.4 3.4 0 1 0 6.8 0a3.4 3.4 0 1 0 -6.8 0M1232.8 164.6a3.4 3.4 0 1 0 6.8 0a3.4 3.4 0 1 0 -6.8 0M1235.4 167.4a3.4 3.4 0 1 0 6.8 0a3.4 3.4 0 1 0 -6.8 0M1238.1 186a3.4 3.4 0 1 0 6.8 0a3.4 3.4 0 1 0 -6.8 0M1246 195.7a3.4 3.4 0 1 0 6.8 0a3.4 3.4 0 1 0 -6.8 0M1248.6 204a3.4 3.4 0 1 0 6.8 0a3.4 3.4 0 1 0 -6.8 0M1251.3 203a3.4 3.4 0 1 0 6.8 0a3.4 3.4 0 1 0 -6.8 0M1253.9 189.3a3.4 3.4 0 1 0 6.8 0a3.4 3.4 0 1 0 -6.8 0M1256.6 188.3a3.4 3.4 0 1 0 6.8 0a3.4 3.4 0 1 0 -6.8 0M1272.4 185.6a3.4 3.4 0 1 0 6.8 0a3.4 3.4 0 1 0 -6.8 0M1275 192a3.4 3.4 0 1 0 6.8 0a3.4 3.4 0 1 0 -6.8 0M1282.9 185.6a3.4 3.4 0 1 0 6.8 0a3.4 3.4 0 1 0 -6.8 0M1285.6 193.9a3.4 3.4 0 1 0 6.8 0a3.4 3.4 0 1 0 -6.8 0M1288.2 195.7a3.4 3.4 0 1 0 6.8 0a3.4 3.4 0 1 0 -6.8 0M1290.9 201.3a3.4 3.4 0 1 0 6.8 0a3.4 3.4 0 1 0 -6.8 0M1293.5 206.9a3.4 3.4 0 1 0 6.8 0a3.4 3.4 0 1 0 -6.8 0M1301.4 197.6a3.4 3.4 0 1 0 6.8 0a3.4 3.4 0 1 0 -6.8 0M1304 201.3a3.4 3.4 0 1 0 6.8 0a3.4 3.4 0 1 0 -6.8 0M1306.7 201.3a3.4 3.4 0 1 0 6.8 0a3.4 3.4 0 1 0 -6.8 0M1309.3 201.3a3.4 3.4 0 1 0 6.8 0a3.4 3.4 0 1 0 -6.8 0M1312 201.3a3.4 3.4 0 1 0 6.8 0a3.4 3.4 0 1 0 -6.8 0M1319.9 200.4a3.4 3.4 0 1 0 6.8 0a3.4 3.4 0 1 0 -6.8 0M1322.5 211.5a3.4 3.4 0 1 0 6.8 0a3.4 3.4 0 1 0 -6.8 0M1325.2 217a3.4 3.4 0 1 0 6.8 0a3.4 3.4 0 1 0 -6.8 0M1327.8 216a3.4 3.4 0 1 0 6.8 0a3.4 3.4 0 1 0 -6.8 0M1330.4 218a3.4 3.4 0 1 0 6.8 0a3.4 3.4 0 1 0 -6.8 0M1338.3 217a3.4 3.4 0 1 0 6.8 0a3.4 3.4 0 1 0 -6.8 0M1341 218.9a3.4 3.4 0 1 0 6.8 0a3.4 3.4 0 1 0 -6.8 0M1343.6 219.8a3.4 3.4 0 1 0 6.8 0a3.4 3.4 0 1 0 -6.8 0M1346.3 210.6a3.4 3.4 0 1 0 6.8 0a3.4 3.4 0 1 0 -6.8 0M1348.9 210.6a3.4 3.4 0 1 0 6.8 0a3.4 3.4 0 1 0 -6.8 0M1356.8 212.4a3.4 3.4 0 1 0 6.8 0a3.4 3.4 0 1 0 -6.8 0M1359.5 223.5a3.4 3.4 0 1 0 6.8 0a3.4 3.4 0 1 0 -6.8 0M1362.1 222.6a3.4 3.4 0 1 0 6.8 0a3.4 3.4 0 1 0 -6.8 0M1364.7 218.9a3.4 3.4 0 1 0 6.8 0a3.4 3.4 0 1 0 -6.8 0M1367.4 216a3.4 3.4 0 1 0 6.8 0a3.4 3.4 0 1 0 -6.8 0M1375.3 212.4a3.4 3.4 0 1 0 6.8 0a3.4 3.4 0 1 0 -6.8 0M1377.9 209.6a3.4 3.4 0 1 0 6.8 0a3.4 3.4 0 1 0 -6.8 0M1380.6 204a3.4 3.4 0 1 0 6.8 0a3.4 3.4 0 1 0 -6.8 0M1383.2 194.8a3.4 3.4 0 1 0 6.8 0a3.4 3.4 0 1 0 -6.8 0M1385.8 193.9a3.4 3.4 0 1 0 6.8 0a3.4 3.4 0 1 0 -6.8 0M1393.8 196.7a3.4 3.4 0 1 0 6.8 0a3.4 3.4 0 1 0 -6.8 0M1396.4 203a3.4 3.4 0 1 0 6.8 0a3.4 3.4 0 1 0 -6.8 0M1399 215.2a3.4 3.4 0 1 0 6.8 0a3.4 3.4 0 1 0 -6.8 0M1412.2 227.2a3.4 3.4 0 1 0 6.8 0a3.4 3.4 0 1 0 -6.8 0M1414.9 217a3.4 3.4 0 1 0 6.8 0a3.4 3.4 0 1 0 -6.8 0M1417.5 218a3.4 3.4 0 1 0 6.8 0a3.4 3.4 0 1 0 -6.8 0M1420.1 212.4a3.4 3.4 0 1 0 6.8 0a3.4 3.4 0 1 0 -6.8 0M1422.8 209.6a3.4 3.4 0 1 0 6.8 0a3.4 3.4 0 1 0 -6.8 0M1430.7 203a3.4 3.4 0 1 0 6.8 0a3.4 3.4 0 1 0 -6.8 0M1433.3 206a3.4 3.4 0 1 0 6.8 0a3.4 3.4 0 1 0 -6.8 0M1436 211.5a3.4 3.4 0 1 0 6.8 0a3.4 3.4 0 1 0 -6.8 0M1438.6 217a3.4 3.4 0 1 0 6.8 0a3.4 3.4 0 1 0 -6.8 0M1441.2 218a3.4 3.4 0 1 0 6.8 0a3.4 3.4 0 1 0 -6.8 0M1449.2 209.6a3.4 3.4 0 1 0 6.8 0a3.4 3.4 0 1 0 -6.8 0M1451.8 213.3a3.4 3.4 0 1 0 6.8 0a3.4 3.4 0 1 0 -6.8 0M1454.4 215.2a3.4 3.4 0 1 0 6.8 0a3.4 3.4 0 1 0 -6.8 0M1457.1 206.9a3.4 3.4 0 1 0 6.8 0a3.4 3.4 0 1 0 -6.8 0M1459.7 207.8a3.4 3.4 0 1 0 6.8 0a3.4 3.4 0 1 0 -6.8 0M1467.6 211.5a3.4 3.4 0 1 0 6.8 0a3.4 3.4 0 1 0 -6.8 0M1470.3 214.3a3.4 3.4 0 1 0 6.8 0a3.4 3.4 0 1 0 -6.8 0M1472.9 217a3.4 3.4 0 1 0 6.8 0a3.4 3.4 0 1 0 -6.8 0M1475.5 223.5a3.4 3.4 0 1 0 6.8 0a3.4 3.4 0 1 0 -6.8 0M1478.2 225.4a3.4 3.4 0 1 0 6.8 0a3.4 3.4 0 1 0 -6.8 0M1486.1 226.3a3.4 3.4 0 1 0 6.8 0a3.4 3.4 0 1 0 -6.8 0M1488.7 208.7a3.4 3.4 0 1 0 6.8 0a3.4 3.4 0 1 0 -6.8 0M1491.4 213a3.4 3.4 0 1 0 6.8 0a3.4 3.4 0 1 0 -6.8 0M1494 212a3.4 3.4 0 1 0 6.8 0a3.4 3.4 0 1 0 -6.8 0M1496.7 201.3a3.4 3.4 0 1 0 6.8 0a3.4 3.4 0 1 0 -6.8 0M1504.6 194.8a3.4 3.4 0 1 0 6.8 0a3.4 3.4 0 1 0 -6.8 0M1507.2 199.4a3.4 3.4 0 1 0 6.8 0a3.4 3.4 0 1 0 -6.8 0M1509.8 198.5a3.4 3.4 0 1 0 6.8 0a3.4 3.4 0 1 0 -6.8 0M1512.5 193.9a3.4 3.4 0 1 0 6.8 0a3.4 3.4 0 1 0 -6.8 0M1515.1 194.8a3.4 3.4 0 1 0 6.8 0a3.4 3.4 0 1 0 -6.8 0M1523 201.3a3.4 3.4 0 1 0 6.8 0a3.4 3.4 0 1 0 -6.8 0M1525.7 203a3.4 3.4 0 1 0 6.8 0a3.4 3.4 0 1 0 -6.8 0M1528.3 206a3.4 3.4 0 1 0 6.8 0a3.4 3.4 0 1 0 -6.8 0M1531 210a3.4 3.4 0 1 0 6.8 0a3.4 3.4 0 1 0 -6.8 0M1533.6 223a3.4 3.4 0 1 0 6.8 0a3.4 3.4 0 1 0 -6.8 0" fill="#f5842f" stroke="#f3975c" stroke-width="0.7"/>
</g><g filter="url(#sh)">
<polyline points="85.8,405.4 88.5,457.7 91.1,457.7 93.7,405.4 96.4,457.7 104.3,483.8 106.9,431.6 109.6,431.6 112.2,431.6 114.8,431.6 122.8,405.4 125.4,431.6 128,405.4 130.7,431.6 133.3,405.4 141.2,405.4 143.9,327.1 146.5,353.2 149.1,353.2 151.8,457.7 159.7,483.8 162.3,509.9 165,509.9 167.6,431.6 170.3,431.6 178.2,431.6 180.8,509.9 183.4,509.9 186.1,431.6 188.7,431.6 196.6,431.6 199.3,431.6 201.9,431.6 204.6,457.7 207.2,483.8 215.1,483.8 217.7,457.7 220.4,431.6 223,405.4 225.7,379.3 238.9,353.2 241.5,379.3 244.1,431.6 252,509.9 254.7,509.9 257.3,509.9 260,509.9 262.6,509.9 270.5,509.9 273.2,483.8 275.8,509.9 278.4,536 281.1,536 289,536 291.6,536 294.3,536 296.9,483.8 299.5,457.7 315.4,405.4 318,431.6 325.9,431.6 328.6,457.7 331.2,379.3 333.8,405.4 336.5,405.4 344.4,379.3 347,405.4 349.7,379.3 352.3,379.3 354.9,301 362.9,301 365.5,353.2 368.1,379.3 370.8,379.3 373.4,379.3 381.3,327.1 384,327.1 386.6,301 389.2,301 399.8,301 402.4,301 405.1,301 407.7,353.2 410.4,353.2 418.3,327.1 420.9,353.2 423.5,248.8 426.2,274.9 428.8,301 436.7,248.8 439.4,301 442,274.9 444.7,274.9 447.3,222.7 455.2,222.7 457.8,248.8 460.5,274.9 463.1,274.9 465.8,274.9 473.7,222.7 476.3,196.6 479,274.9 481.6,274.9 484.2,248.8 492.1,301 494.8,379.3 497.4,353.2 500.1,327.1 502.7,379.3 510.6,353.2 513.3,327.1 515.9,327.1 518.5,327.1 521.2,353.2 529.1,353.2 531.7,327.1 534.4,327.1 537,327.1 539.6,353.2 547.6,379.3 550.2,405.4 552.8,405.4 555.5,405.4 558.1,327.1 566,301 568.7,301 571.3,301 573.9,222.7 576.6,222.7 584.5,248.8 587.1,170.4 589.8,144.3 592.4,183.5 595.1,222.7 603,222.7 605.6,196.6 608.2,248.8 610.9,301 613.5,248.8 621.4,353.2 624.1,327.1 626.7,353.2 629.4,353.2 632,353.2 639.9,327.1 642.5,301 645.2,274.9 647.8,274.9 650.5,274.9 661,248.8 663.7,327.1 666.3,379.3 668.9,398.9 676.8,457.7 679.5,327.1 682.1,457.7 684.8,457.7 687.4,457.7 695.3,405.4 698,405.4 700.6,431.6 703.2,431.6 705.9,431.6 732.3,457.7 734.9,457.7 737.5,405.4 740.2,379.3 742.8,379.3 750.7,353.2 753.4,274.9 756,353.2 758.6,353.2 761.3,353.2 769.2,353.2 771.8,379.3 774.5,248.8 777.1,248.8 779.7,431.6 787.7,457.7 790.3,379.3 792.9,327.1 795.6,327.1 798.2,301 806.1,222.7 808.8,301 811.4,301 814,327.1 816.7,301 824.6,301 827.2,248.8 829.9,248.8 832.5,301 835.2,301 843.1,301 845.7,301 848.3,301 851,274.9 853.6,301 861.5,327.1 864.2,248.8 866.8,248.8 869.5,248.8 872.1,248.8 880,274.9 882.6,222.7 885.3,248.8 887.9,274.9 890.6,248.8 898.5,274.9 901.1,327.1 903.8,301 906.4,353.2 909,353.2 916.9,353.2 919.6,431.6 922.2,431.6 924.9,431.6 927.5,431.6 935.4,353.2 938.1,353.2 940.7,353.2 943.3,353.2 946,353.2 956.5,379.3 959.2,379.3 961.8,353.2 964.4,327.1 972.4,274.9 975,301 977.6,301 980.3,248.8 982.9,196.6 990.8,170.4 993.5,170.4 996.1,170.4 998.7,144.3 1001.4,144.3 1027.8,144.3 1030.4,222.7 1033,222.7 1035.7,222.7 1038.3,222.7 1046.2,301 1048.9,301 1051.5,274.9 1054.1,222.7 1056.8,222.7 1064.7,222.7 1067.3,222.7 1070,222.7 1072.6,274.9 1075.3,379.3 1083.2,353.2 1085.8,353.2 1088.5,353.2 1091.1,353.2 1093.7,353.2 1101.6,353.2 1104.3,353.2 1106.9,248.8 1109.6,248.8 1112.2,248.8 1120.1,274.9 1122.8,301 1125.4,327.1 1128,353.2 1130.7,353.2 1138.6,405.4 1141.2,366.3 1143.9,327.1 1146.5,379.3 1149.1,353.2 1157.1,353.2 1159.7,327.1 1162.3,274.9 1165,301 1167.6,301 1175.5,301 1178.2,327.1 1180.8,327.1 1183.4,327.1 1186.1,222.7 1194,196.6 1196.6,196.6 1201.9,222.7 1204.5,170.4 1212.5,170.4 1215.1,222.7 1217.7,248.8 1220.4,222.7 1223,222.7 1230.9,274.9 1233.6,248.8 1236.2,301 1238.8,327.1 1241.5,353.2 1249.4,379.3 1252,405.4 1254.7,379.3 1257.3,353.2 1260,327.1 1275.8,327.1 1278.4,327.1 1286.3,301 1289,301 1291.6,327.1 1294.3,353.2 1296.9,379.3 1304.8,379.3 1307.4,327.1 1310.1,353.2 1312.7,353.2 1315.4,353.2 1323.3,353.2 1325.9,353.2 1328.6,405.4 1331.2,405.4 1333.8,405.4 1341.7,405.4 1344.4,405.4 1347,405.4 1349.7,353.2 1352.3,353.2 1360.2,379.3 1362.9,405.4 1365.5,457.7 1368.1,483.8 1370.8,431.6 1378.7,431.6 1381.3,405.4 1384,405.4 1386.6,327.1 1389.2,274.9 1397.2,301 1399.8,301 1402.4,379.3 1415.6,379.3 1418.3,353.2 1420.9,379.3 1423.5,327.1 1426.2,327.1 1434.1,248.8 1436.7,248.8 1439.4,301 1442,327.1 1444.6,327.1 1452.6,327.1 1455.2,353.2 1457.8,353.2 1460.5,353.2 1463.1,327.1 1471,379.3 1473.7,379.3 1476.3,405.4 1478.9,405.4 1481.6,405.4 1489.5,405.4 1492.1,274.9 1494.8,301 1497.4,274.9 1500.1,274.9 1508,222.7 1510.6,301 1513.2,301 1515.9,301 1518.5,222.7 1526.4,274.9 1529.1,274.9 1531.7,327.1 1534.4,327.1 1537,405.4" fill="none" stroke="#66a7e3" stroke-width="3.8" stroke-linejoin="round" stroke-linecap="round"/>
<path d="M82.4 405.4a3.4 3.4 0 1 0 6.8 0a3.4 3.4 0 1 0 -6.8 0M85.1 457.7a3.4 3.4 0 1 0 6.8 0a3.4 3.4 0 1 0 -6.8 0M87.7 457.7a3.4 3.4 0 1 0 6.8 0a3.4 3.4 0 1 0 -6.8 0M90.3 405.4a3.4 3.4 0 1 0 6.8 0a3.4 3.4 0 1 0 -6.8 0M93 457.7a3.4 3.4 0 1 0 6.8 0a3.4 3.4 0 1 0 -6.8 0M100.9 483.8a3.4 3.4 0 1 0 6.8 0a3.4 3.4 0 1 0 -6.8 0M103.5 431.6a3.4 3.4 0 1 0 6.8 0a3.4 3.4 0 1 0 -6.8 0M106.2 431.6a3.4 3.4 0 1 0 6.8 0a3.4 3.4 0 1 0 -6.8 0M108.8 431.6a3.4 3.4 0 1 0 6.8 0a3.4 3.4 0 1 0 -6.8 0M111.4 431.6a3.4 3.4 0 1 0 6.8 0a3.4 3.4 0 1 0 -6.8 0M119.4 405.4a3.4 3.4 0 1 0 6.8 0a3.4 3.4 0 1 0 -6.8 0M122 431.6a3.4 3.4 0 1 0 6.8 0a3.4 3.4 0 1 0 -6.8 0M124.6 405.4a3.4 3.4 0 1 0 6.8 0a3.4 3.4 0 1 0 -6.8 0M127.3 431.6a3.4 3.4 0 1 0 6.8 0a3.4 3.4 0 1 0 -6.8 0M129.9 405.4a3.4 3.4 0 1 0 6.8 0a3.4 3.4 0 1 0 -6.8 0M137.8 405.4a3.4 3.4 0 1 0 6.8 0a3.4 3.4 0 1 0 -6.8 0M140.5 327.1a3.4 3.4 0 1 0 6.8 0a3.4 3.4 0 1 0 -6.8 0M143.1 353.2a3.4 3.4 0 1 0 6.8 0a3.4 3.4 0 1 0 -6.8 0M145.7 353.2a3.4 3.4 0 1 0 6.8 0a3.4 3.4 0 1 0 -6.8 0M148.4 457.7a3.4 3.4 0 1 0 6.8 0a3.4 3.4 0 1 0 -6.8 0M156.3 483.8a3.4 3.4 0 1 0 6.8 0a3.4 3.4 0 1 0 -6.8 0M158.9 509.9a3.4 3.4 0 1 0 6.8 0a3.4 3.4 0 1 0 -6.8 0M161.6 509.9a3.4 3.4 0 1 0 6.8 0a3.4 3.4 0 1 0 -6.8 0M164.2 431.6a3.4 3.4 0 1 0 6.8 0a3.4 3.4 0 1 0 -6.8 0M166.9 431.6a3.4 3.4 0 1 0 6.8 0a3.4 3.4 0 1 0 -6.8 0M174.8 431.6a3.4 3.4 0 1 0 6.8 0a3.4 3.4 0 1 0 -6.8 0M177.4 509.9a3.4 3.4 0 1 0 6.8 0a3.4 3.4 0 1 0 -6.8 0M180 509.9a3.4 3.4 0 1 0 6.8 0a3.4 3.4 0 1 0 -6.8 0M182.7 431.6a3.4 3.4 0 1 0 6.8 0a3.4 3.4 0 1 0 -6.8 0M185.3 431.6a3.4 3.4 0 1 0 6.8 0a3.4 3.4 0 1 0 -6.8 0M193.2 431.6a3.4 3.4 0 1 0 6.8 0a3.4 3.4 0 1 0 -6.8 0M195.9 431.6a3.4 3.4 0 1 0 6.8 0a3.4 3.4 0 1 0 -6.8 0M198.5 431.6a3.4 3.4 0 1 0 6.8 0a3.4 3.4 0 1 0 -6.8 0M201.2 457.7a3.4 3.4 0 1 0 6.8 0a3.4 3.4 0 1 0 -6.8 0M203.8 483.8a3.4 3.4 0 1 0 6.8 0a3.4 3.4 0 1 0 -6.8 0M211.7 483.8a3.4 3.4 0 1 0 6.8 0a3.4 3.4 0 1 0 -6.8 0M214.3 457.7a3.4 3.4 0 1 0 6.8 0a3.4 3.4 0 1 0 -6.8 0M217 431.6a3.4 3.4 0 1 0 6.8 0a3.4 3.4 0 1 0 -6.8 0M219.6 405.4a3.4 3.4 0 1 0 6.8 0a3.4 3.4 0 1 0 -6.8 0M222.3 379.3a3.4 3.4 0 1 0 6.8 0a3.4 3.4 0 1 0 -6.8 0M235.5 353.2a3.4 3.4 0 1 0 6.8 0a3.4 3.4 0 1 0 -6.8 0M238.1 379.3a3.4 3.4 0 1 0 6.8 0a3.4 3.4 0 1 0 -6.8 0M240.7 431.6a3.4 3.4 0 1 0 6.8 0a3.4 3.4 0 1 0 -6.8 0M248.6 509.9a3.4 3.4 0 1 0 6.8 0a3.4 3.4 0 1 0 -6.8 0M251.3 509.9a3.4 3.4 0 1 0 6.8 0a3.4 3.4 0 1 0 -6.8 0M253.9 509.9a3.4 3.4 0 1 0 6.8 0a3.4 3.4 0 1 0 -6.8 0M256.6 509.9a3.4 3.4 0 1 0 6.8 0a3.4 3.4 0 1 0 -6.8 0M259.2 509.9a3.4 3.4 0 1 0 6.8 0a3.4 3.4 0 1 0 -6.8 0M267.1 509.9a3.4 3.4 0 1 0 6.8 0a3.4 3.4 0 1 0 -6.8 0M269.8 483.8a3.4 3.4 0 1 0 6.8 0a3.4 3.4 0 1 0 -6.8 0M272.4 509.9a3.4 3.4 0 1 0 6.8 0a3.4 3.4 0 1 0 -6.8 0M275 536a3.4 3.4 0 1 0 6.8 0a3.4 3.4 0 1 0 -6.8 0M277.7 536a3.4 3.4 0 1 0 6.8 0a3.4 3.4 0 1 0 -6.8 0M285.6 536a3.4 3.4 0 1 0 6.8 0a3.4 3.4 0 1 0 -6.8 0M288.2 536a3.4 3.4 0 1 0 6.8 0a3.4 3.4 0 1 0 -6.8 0M290.9 536a3.4 3.4 0 1 0 6.8 0a3.4 3.4 0 1 0 -6.8 0M293.5 483.8a3.4 3.4 0 1 0 6.8 0a3.4 3.4 0 1 0 -6.8 0M296.1 457.7a3.4 3.4 0 1 0 6.8 0a3.4 3.4 0 1 0 -6.8 0M312 405.4a3.4 3.4 0 1 0 6.8 0a3.4 3.4 0 1 0 -6.8 0M314.6 431.6a3.4 3.4 0 1 0 6.8 0a3.4 3.4 0 1 0 -6.8 0M322.5 431.6a3.4 3.4 0 1 0 6.8 0a3.4 3.4 0 1 0 -6.8 0M325.2 457.7a3.4 3.4 0 1 0 6.8 0a3.4 3.4 0 1 0 -6.8 0M327.8 379.3a3.4 3.4 0 1 0 6.8 0a3.4 3.4 0 1 0 -6.8 0M330.4 405.4a3.4 3.4 0 1 0 6.8 0a3.4 3.4 0 1 0 -6.8 0M333.1 405.4a3.4 3.4 0 1 0 6.8 0a3.4 3.4 0 1 0 -6.8 0M341 379.3a3.4 3.4 0 1 0 6.8 0a3.4 3.4 0 1 0 -6.8 0M343.6 405.4a3.4 3.4 0 1 0 6.8 0a3.4 3.4 0 1 0 -6.8 0M346.3 379.3a3.4 3.4 0 1 0 6.8 0a3.4 3.4 0 1 0 -6.8 0M348.9 379.3a3.4 3.4 0 1 0 6.8 0a3.4 3.4 0 1 0 -6.8 0M351.5 301a3.4 3.4 0 1 0 6.8 0a3.4 3.4 0 1 0 -6.8 0M359.5 301a3.4 3.4 0 1 0 6.8 0a3.4 3.4 0 1 0 -6.8 0M362.1 353.2a3.4 3.4 0 1 0 6.8 0a3.4 3.4 0 1 0 -6.8 0M364.7 379.3a3.4 3.4 0 1 0 6.8 0a3.4 3.4 0 1 0 -6.8 0M367.4 379.3a3.4 3.4 0 1 0 6.8 0a3.4 3.4 0 1 0 -6.8 0M370 379.3a3.4 3.4 0 1 0 6.8 0a3.4 3.4 0 1 0 -6.8 0M377.9 327.1a3.4 3.4 0 1 0 6.8 0a3.4 3.4 0 1 0 -6.8 0M380.6 327.1a3.4 3.4 0 1 0 6.8 0a3.4 3.4 0 1 0 -6.8 0M383.2 301a3.4 3.4 0 1 0 6.8 0a3.4 3.4 0 1 0 -6.8 0M385.8 301a3.4 3.4 0 1 0 6.8 0a3.4 3.4 0 1 0 -6.8 0M396.4 301a3.4 3.4 0 1 0 6.8 0a3.4 3.4 0 1 0 -6.8 0M399 301a3.4 3.4 0 1 0 6.8 0a3.4 3.4 0 1 0 -6.8 0M401.7 301a3.4 3.4 0 1 0 6.8 0a3.4 3.4 0 1 0 -6.8 0M404.3 353.2a3.4 3.4 0 1 0 6.8 0a3.4 3.4 0 1 0 -6.8 0M407 353.2a3.4 3.4 0 1 0 6.8 0a3.4 3.4 0 1 0 -6.8 0M414.9 327.1a3.4 3.4 0 1 0 6.8 0a3.4 3.4 0 1 0 -6.8 0M417.5 353.2a3.4 3.4 0 1 0 6.8 0a3.4 3.4 0 1 0 -6.8 0M420.1 248.8a3.4 3.4 0 1 0 6.8 0a3.4 3.4 0 1 0 -6.8 0M422.8 274.9a3.4 3.4 0 1 0 6.8 0a3.4 3.4 0 1 0 -6.8 0M425.4 301a3.4 3.4 0 1 0 6.8 0a3.4 3.4 0 1 0 -6.8 0M433.3 248.8a3.4 3.4 0 1 0 6.8 0a3.4 3.4 0 1 0 -6.8 0M436 301a3.4 3.4 0 1 0 6.8 0a3.4 3.4 0 1 0 -6.8 0M438.6 274.9a3.4 3.4 0 1 0 6.8 0a3.4 3.4 0 1 0 -6.8 0M441.3 274.9a3.4 3.4 0 1 0 6.8 0a3.4 3.4 0 1 0 -6.8 0M443.9 222.7a3.4 3.4 0 1 0 6.8 0a3.4 3.4 0 1 0 -6.8 0M451.8 222.7a3.4 3.4 0 1 0 6.8 0a3.4 3.4 0 1 0 -6.8 0M454.4 248.8a3.4 3.4 0 1 0 6.8 0a3.4 3.4 0 1 0 -6.8 0M457.1 274.9a3.4 3.4 0 1 0 6.8 0a3.4 3.4 0 1 0 -6.8 0M459.7 274.9a3.4 3.4 0 1 0 6.8 0a3.4 3.4 0 1 0 -6.8 0M462.4 274.9a3.4 3.4 0 1 0 6.8 0a3.4 3.4 0 1 0 -6.8 0M470.3 222.7a3.4 3.4 0 1 0 6.8 0a3.4 3.4 0 1 0 -6.8 0M472.9 196.6a3.4 3.4 0 1 0 6.8 0a3.4 3.4 0 1 0 -6.8 0M475.6 274.9a3.4 3.4 0 1 0 6.8 0a3.4 3.4 0 1 0 -6.8 0M478.2 274.9a3.4 3.4 0 1 0 6.8 0a3.4 3.4 0 1 0 -6.8 0M480.8 248.8a3.4 3.4 0 1 0 6.8 0a3.4 3.4 0 1 0 -6.8 0M488.7 301a3.4 3.4 0 1 0 6.8 0a3.4 3.4 0 1 0 -6.8 0M491.4 379.3a3.4 3.4 0 1 0 6.8 0a3.4 3.4 0 1 0 -6.8 0M494 353.2a3.4 3.4 0 1 0 6.8 0a3.4 3.4 0 1 0 -6.8 0M496.7 327.1a3.4 3.4 0 1 0 6.8 0a3.4 3.4 0 1 0 -6.8 0M499.3 379.3a3.4 3.4 0 1 0 6.8 0a3.4 3.4 0 1 0 -6.8 0M507.2 353.2a3.4 3.4 0 1 0 6.8 0a3.4 3.4 0 1 0 -6.8 0M509.9 327.1a3.4 3.4 0 1 0 6.8 0a3.4 3.4 0 1 0 -6.8 0M512.5 327.1a3.4 3.4 0 1 0 6.8 0a3.4 3.4 0 1 0 -6.8 0M515.1 327.1a3.4 3.4 0 1 0 6.8 0a3.4 3.4 0 1 0 -6.8 0M517.8 353.2a3.4 3.4 0 1 0 6.8 0a3.4 3.4 0 1 0 -6.8 0M525.7 353.2a3.4 3.4 0 1 0 6.8 0a3.4 3.4 0 1 0 -6.8 0M528.3 327.1a3.4 3.4 0 1 0 6.8 0a3.4 3.4 0 1 0 -6.8 0M531 327.1a3.4 3.4 0 1 0 6.8 0a3.4 3.4 0 1 0 -6.8 0M533.6 327.1a3.4 3.4 0 1 0 6.8 0a3.4 3.4 0 1 0 -6.8 0M536.2 353.2a3.4 3.4 0 1 0 6.8 0a3.4 3.4 0 1 0 -6.8 0M544.2 379.3a3.4 3.4 0 1 0 6.8 0a3.4 3.4 0 1 0 -6.8 0M546.8 405.4a3.4 3.4 0 1 0 6.8 0a3.4 3.4 0 1 0 -6.8 0M549.4 405.4a3.4 3.4 0 1 0 6.8 0a3.4 3.4 0 1 0 -6.8 0M552.1 405.4a3.4 3.4 0 1 0 6.8 0a3.4 3.4 0 1 0 -6.8 0M554.7 327.1a3.4 3.4 0 1 0 6.8 0a3.4 3.4 0 1 0 -6.8 0M562.6 301a3.4 3.4 0 1 0 6.8 0a3.4 3.4 0 1 0 -6.8 0M565.3 301a3.4 3.4 0 1 0 6.8 0a3.4 3.4 0 1 0 -6.8 0M567.9 301a3.4 3.4 0 1 0 6.8 0a3.4 3.4 0 1 0 -6.8 0M570.5 222.7a3.4 3.4 0 1 0 6.8 0a3.4 3.4 0 1 0 -6.8 0M573.2 222.7a3.4 3.4 0 1 0 6.8 0a3.4 3.4 0 1 0 -6.8 0M581.1 248.8a3.4 3.4 0 1 0 6.8 0a3.4 3.4 0 1 0 -6.8 0M583.7 170.4a3.4 3.4 0 1 0 6.8 0a3.4 3.4 0 1 0 -6.8 0M586.4 144.3a3.4 3.4 0 1 0 6.8 0a3.4 3.4 0 1 0 -6.8 0M589 183.5a3.4 3.4 0 1 0 6.8 0a3.4 3.4 0 1 0 -6.8 0M591.7 222.7a3.4 3.4 0 1 0 6.8 0a3.4 3.4 0 1 0 -6.8 0M599.6 222.7a3.4 3.4 0 1 0 6.8 0a3.4 3.4 0 1 0 -6.8 0M602.2 196.6a3.4 3.4 0 1 0 6.8 0a3.4 3.4 0 1 0 -6.8 0M604.8 248.8a3.4 3.4 0 1 0 6.8 0a3.4 3.4 0 1 0 -6.8 0M607.5 301a3.4 3.4 0 1 0 6.8 0a3.4 3.4 0 1 0 -6.8 0M610.1 248.8a3.4 3.4 0 1 0 6.8 0a3.4 3.4 0 1 0 -6.8 0M618 353.2a3.4 3.4 0 1 0 6.8 0a3.4 3.4 0 1 0 -6.8 0M620.7 327.1a3.4 3.4 0 1 0 6.8 0a3.4 3.4 0 1 0 -6.8 0M623.3 353.2a3.4 3.4 0 1 0 6.8 0a3.4 3.4 0 1 0 -6.8 0M626 353.2a3.4 3.4 0 1 0 6.8 0a3.4 3.4 0 1 0 -6.8 0M628.6 353.2a3.4 3.4 0 1 0 6.8 0a3.4 3.4 0 1 0 -6.8 0M636.5 327.1a3.4 3.4 0 1 0 6.8 0a3.4 3.4 0 1 0 -6.8 0M639.1 301a3.4 3.4 0 1 0 6.8 0a3.4 3.4 0 1 0 -6.8 0M641.8 274.9a3.4 3.4 0 1 0 6.8 0a3.4 3.4 0 1 0 -6.8 0M644.4 274.9a3.4 3.4 0 1 0 6.8 0a3.4 3.4 0 1 0 -6.8 0M647.1 274.9a3.4 3.4 0 1 0 6.8 0a3.4 3.4 0 1 0 -6.8 0M657.6 248.8a3.4 3.4 0 1 0 6.8 0a3.4 3.4 0 1 0 -6.8 0M660.3 327.1a3.4 3.4 0 1 0 6.8 0a3.4 3.4 0 1 0 -6.8 0M662.9 379.3a3.4 3.4 0 1 0 6.8 0a3.4 3.4 0 1 0 -6.8 0M665.5 398.9a3.4 3.4 0 1 0 6.8 0a3.4 3.4 0 1 0 -6.8 0M673.4 457.7a3.4 3.4 0 1 0 6.8 0a3.4 3.4 0 1 0 -6.8 0M676.1 327.1a3.4 3.4 0 1 0 6.8 0a3.4 3.4 0 1 0 -6.8 0M678.7 457.7a3.4 3.4 0 1 0 6.8 0a3.4 3.4 0 1 0 -6.8 0M681.4 457.7a3.4 3.4 0 1 0 6.8 0a3.4 3.4 0 1 0 -6.8 0M684 457.7a3.4 3.4 0 1 0 6.8 0a3.4 3.4 0 1 0 -6.8 0M691.9 405.4a3.4 3.4 0 1 0 6.8 0a3.4 3.4 0 1 0 -6.8 0M694.6 405.4a3.4 3.4 0 1 0 6.8 0a3.4 3.4 0 1 0 -6.8 0M697.2 431.6a3.4 3.4 0 1 0 6.8 0a3.4 3.4 0 1 0 -6.8 0M699.8 431.6a3.4 3.4 0 1 0 6.8 0a3.4 3.4 0 1 0 -6.8 0M702.5 431.6a3.4 3.4 0 1 0 6.8 0a3.4 3.4 0 1 0 -6.8 0M728.9 457.7a3.4 3.4 0 1 0 6.8 0a3.4 3.4 0 1 0 -6.8 0M731.5 457.7a3.4 3.4 0 1 0 6.8 0a3.4 3.4 0 1 0 -6.8 0M734.1 405.4a3.4 3.4 0 1 0 6.8 0a3.4 3.4 0 1 0 -6.8 0M736.8 379.3a3.4 3.4 0 1 0 6.8 0a3.4 3.4 0 1 0 -6.8 0M739.4 379.3a3.4 3.4 0 1 0 6.8 0a3.4 3.4 0 1 0 -6.8 0M747.3 353.2a3.4 3.4 0 1 0 6.8 0a3.4 3.4 0 1 0 -6.8 0M750 274.9a3.4 3.4 0 1 0 6.8 0a3.4 3.4 0 1 0 -6.8 0M752.6 353.2a3.4 3.4 0 1 0 6.8 0a3.4 3.4 0 1 0 -6.8 0M755.2 353.2a3.4 3.4 0 1 0 6.8 0a3.4 3.4 0 1 0 -6.8 0M757.9 353.2a3.4 3.4 0 1 0 6.8 0a3.4 3.4 0 1 0 -6.8 0M765.8 353.2a3.4 3.4 0 1 0 6.8 0a3.4 3.4 0 1 0 -6.8 0M768.4 379.3a3.4 3.4 0 1 0 6.8 0a3.4 3.4 0 1 0 -6.8 0M771.1 248.8a3.4 3.4 0 1 0 6.8 0a3.4 3.4 0 1 0 -6.8 0M773.7 248.8a3.4 3.4 0 1 0 6.8 0a3.4 3.4 0 1 0 -6.8 0M776.3 431.6a3.4 3.4 0 1 0 6.8 0a3.4 3.4 0 1 0 -6.8 0M784.3 457.7a3.4 3.4 0 1 0 6.8 0a3.4 3.4 0 1 0 -6.8 0M786.9 379.3a3.4 3.4 0 1 0 6.8 0a3.4 3.4 0 1 0 -6.8 0M789.5 327.1a3.4 3.4 0 1 0 6.8 0a3.4 3.4 0 1 0 -6.8 0M792.2 327.1a3.4 3.4 0 1 0 6.8 0a3.4 3.4 0 1 0 -6.8 0M794.8 301a3.4 3.4 0 1 0 6.8 0a3.4 3.4 0 1 0 -6.8 0M802.7 222.7a3.4 3.4 0 1 0 6.8 0a3.4 3.4 0 1 0 -6.8 0M805.4 301a3.4 3.4 0 1 0 6.8 0a3.4 3.4 0 1 0 -6.8 0M808 301a3.4 3.4 0 1 0 6.8 0a3.4 3.4 0 1 0 -6.8 0M810.6 327.1a3.4 3.4 0 1 0 6.8 0a3.4 3.4 0 1 0 -6.8 0M813.3 301a3.4 3.4 0 1 0 6.8 0a3.4 3.4 0 1 0 -6.8 0M821.2 301a3.4 3.4 0 1 0 6.8 0a3.4 3.4 0 1 0 -6.8 0M823.8 248.8a3.4 3.4 0 1 0 6.8 0a3.4 3.4 0 1 0 -6.8 0M826.5 248.8a3.4 3.4 0 1 0 6.8 0a3.4 3.4 0 1 0 -6.8 0M829.1 301a3.4 3.4 0 1 0 6.8 0a3.4 3.4 0 1 0 -6.8 0M831.8 301a3.4 3.4 0 1 0 6.8 0a3.4 3.4 0 1 0 -6.8 0M839.7 301a3.4 3.4 0 1 0 6.8 0a3.4 3.4 0 1 0 -6.8 0M842.3 301a3.4 3.4 0 1 0 6.8 0a3.4 3.4 0 1 0 -6.8 0M844.9 301a3.4 3.4 0 1 0 6.8 0a3.4 3.4 0 1 0 -6.8 0M847.6 274.9a3.4 3.4 0 1 0 6.8 0a3.4 3.4 0 1 0 -6.8 0M850.2 301a3.4 3.4 0 1 0 6.8 0a3.4 3.4 0 1 0 -6.8 0M858.1 327.1a3.4 3.4 0 1 0 6.8 0a3.4 3.4 0 1 0 -6.8 0M860.8 248.8a3.4 3.4 0 1 0 6.8 0a3.4 3.4 0 1 0 -6.8 0M863.4 248.8a3.4 3.4 0 1 0 6.8 0a3.4 3.4 0 1 0 -6.8 0M866.1 248.8a3.4 3.4 0 1 0 6.8 0a3.4 3.4 0 1 0 -6.8 0M868.7 248.8a3.4 3.4 0 1 0 6.8 0a3.4 3.4 0 1 0 -6.8 0M876.6 274.9a3.4 3.4 0 1 0 6.8 0a3.4 3.4 0 1 0 -6.8 0M879.2 222.7a3.4 3.4 0 1 0 6.8 0a3.4 3.4 0 1 0 -6.8 0M881.9 248.8a3.4 3.4 0 1 0 6.8 0a3.4 3.4 0 1 0 -6.8 0M884.5 274.9a3.4 3.4 0 1 0 6.8 0a3.4 3.4 0 1 0 -6.8 0M887.2 248.8a3.4 3.4 0 1 0 6.8 0a3.4 3.4 0 1 0 -6.8 0M895.1 274.9a3.4 3.4 0 1 0 6.8 0a3.4 3.4 0 1 0 -6.8 0M897.7 327.1a3.4 3.4 0 1 0 6.8 0a3.4 3.4 0 1 0 -6.8 0M900.4 301a3.4 3.4 0 1 0 6.8 0a3.4 3.4 0 1 0 -6.8 0M903 353.2a3.4 3.4 0 1 0 6.8 0a3.4 3.4 0 1 0 -6.8 0M905.6 353.2a3.4 3.4 0 1 0 6.8 0a3.4 3.4 0 1 0 -6.8 0M913.5 353.2a3.4 3.4 0 1 0 6.8 0a3.4 3.4 0 1 0 -6.8 0M916.2 431.6a3.4 3.4 0 1 0 6.8 0a3.4 3.4 0 1 0 -6.8 0M918.8 431.6a3.4 3.4 0 1 0 6.8 0a3.4 3.4 0 1 0 -6.8 0M921.5 431.6a3.4 3.4 0 1 0 6.8 0a3.4 3.4 0 1 0 -6.8 0M924.1 431.6a3.4 3.4 0 1 0 6.8 0a3.4 3.4 0 1 0 -6.8 0M932 353.2a3.4 3.4 0 1 0 6.8 0a3.4 3.4 0 1 0 -6.8 0M934.7 353.2a3.4 3.4 0 1 0 6.8 0a3.4 3.4 0 1 0 -6.8 0M937.3 353.2a3.4 3.4 0 1 0 6.8 0a3.4 3.4 0 1 0 -6.8 0M939.9 353.2a3.4 3.4 0 1 0 6.8 0a3.4 3.4 0 1 0 -6.8 0M942.6 353.2a3.4 3.4 0 1 0 6.8 0a3.4 3.4 0 1 0 -6.8 0M953.1 379.3a3.4 3.4 0 1 0 6.8 0a3.4 3.4 0 1 0 -6.8 0M955.8 379.3a3.4 3.4 0 1 0 6.8 0a3.4 3.4 0 1 0 -6.8 0M958.4 353.2a3.4 3.4 0 1 0 6.8 0a3.4 3.4 0 1 0 -6.8 0M961 327.1a3.4 3.4 0 1 0 6.8 0a3.4 3.4 0 1 0 -6.8 0M969 274.9a3.4 3.4 0 1 0 6.8 0a3.4 3.4 0 1 0 -6.8 0M971.6 301a3.4 3.4 0 1 0 6.8 0a3.4 3.4 0 1 0 -6.8 0M974.2 301a3.4 3.4 0 1 0 6.8 0a3.4 3.4 0 1 0 -6.8 0M976.9 248.8a3.4 3.4 0 1 0 6.8 0a3.4 3.4 0 1 0 -6.8 0M979.5 196.6a3.4 3.4 0 1 0 6.8 0a3.4 3.4 0 1 0 -6.8 0M987.4 170.4a3.4 3.4 0 1 0 6.8 0a3.4 3.4 0 1 0 -6.8 0M990.1 170.4a3.4 3.4 0 1 0 6.8 0a3.4 3.4 0 1 0 -6.8 0M992.7 170.4a3.4 3.4 0 1 0 6.8 0a3.4 3.4 0 1 0 -6.8 0M995.3 144.3a3.4 3.4 0 1 0 6.8 0a3.4 3.4 0 1 0 -6.8 0M998 144.3a3.4 3.4 0 1 0 6.8 0a3.4 3.4 0 1 0 -6.8 0M1024.4 144.3a3.4 3.4 0 1 0 6.8 0a3.4 3.4 0 1 0 -6.8 0M1027 222.7a3.4 3.4 0 1 0 6.8 0a3.4 3.4 0 1 0 -6.8 0M1029.6 222.7a3.4 3.4 0 1 0 6.8 0a3.4 3.4 0 1 0 -6.8 0M1032.3 222.7a3.4 3.4 0 1 0 6.8 0a3.4 3.4 0 1 0 -6.8 0M1034.9 222.7a3.4 3.4 0 1 0 6.8 0a3.4 3.4 0 1 0 -6.8 0M1042.8 301a3.4 3.4 0 1 0 6.8 0a3.4 3.4 0 1 0 -6.8 0M1045.5 301a3.4 3.4 0 1 0 6.8 0a3.4 3.4 0 1 0 -6.8 0M1048.1 274.9a3.4 3.4 0 1 0 6.8 0a3.4 3.4 0 1 0 -6.8 0M1050.7 222.7a3.4 3.4 0 1 0 6.8 0a3.4 3.4 0 1 0 -6.8 0M1053.4 222.7a3.4 3.4 0 1 0 6.8 0a3.4 3.4 0 1 0 -6.8 0M1061.3 222.7a3.4 3.4 0 1 0 6.8 0a3.4 3.4 0 1 0 -6.8 0M1063.9 222.7a3.4 3.4 0 1 0 6.8 0a3.4 3.4 0 1 0 -6.8 0M1066.6 222.7a3.4 3.4 0 1 0 6.8 0a3.4 3.4 0 1 0 -6.8 0M1069.2 274.9a3.4 3.4 0 1 0 6.8 0a3.4 3.4 0 1 0 -6.8 0M1071.9 379.3a3.4 3.4 0 1 0 6.8 0a3.4 3.4 0 1 0 -6.8 0M1079.8 353.2a3.4 3.4 0 1 0 6.8 0a3.4 3.4 0 1 0 -6.8 0M1082.4 353.2a3.4 3.4 0 1 0 6.8 0a3.4 3.4 0 1 0 -6.8 0M1085 353.2a3.4 3.4 0 1 0 6.8 0a3.4 3.4 0 1 0 -6.8 0M1087.7 353.2a3.4 3.4 0 1 0 6.8 0a3.4 3.4 0 1 0 -6.8 0M1090.3 353.2a3.4 3.4 0 1 0 6.8 0a3.4 3.4 0 1 0 -6.8 0M1098.2 353.2a3.4 3.4 0 1 0 6.8 0a3.4 3.4 0 1 0 -6.8 0M1100.9 353.2a3.4 3.4 0 1 0 6.8 0a3.4 3.4 0 1 0 -6.8 0M1103.5 248.8a3.4 3.4 0 1 0 6.8 0a3.4 3.4 0 1 0 -6.8 0M1106.2 248.8a3.4 3.4 0 1 0 6.8 0a3.4 3.4 0 1 0 -6.8 0M1108.8 248.8a3.4 3.4 0 1 0 6.8 0a3.4 3.4 0 1 0 -6.8 0M1116.7 274.9a3.4 3.4 0 1 0 6.8 0a3.4 3.4 0 1 0 -6.8 0M1119.4 301a3.4 3.4 0 1 0 6.8 0a3.4 3.4 0 1 0 -6.8 0M1122 327.1a3.4 3.4 0 1 0 6.8 0a3.4 3.4 0 1 0 -6.8 0M1124.6 353.2a3.4 3.4 0 1 0 6.8 0a3.4 3.4 0 1 0 -6.8 0M1127.3 353.2a3.4 3.4 0 1 0 6.8 0a3.4 3.4 0 1 0 -6.8 0M1135.2 405.4a3.4 3.4 0 1 0 6.8 0a3.4 3.4 0 1 0 -6.8 0M1137.8 366.3a3.4 3.4 0 1 0 6.8 0a3.4 3.4 0 1 0 -6.8 0M1140.5 327.1a3.4 3.4 0 1 0 6.8 0a3.4 3.4 0 1 0 -6.8 0M1143.1 379.3a3.4 3.4 0 1 0 6.8 0a3.4 3.4 0 1 0 -6.8 0M1145.7 353.2a3.4 3.4 0 1 0 6.8 0a3.4 3.4 0 1 0 -6.8 0M1153.7 353.2a3.4 3.4 0 1 0 6.8 0a3.4 3.4 0 1 0 -6.8 0M1156.3 327.1a3.4 3.4 0 1 0 6.8 0a3.4 3.4 0 1 0 -6.8 0M1158.9 274.9a3.4 3.4 0 1 0 6.8 0a3.4 3.4 0 1 0 -6.8 0M1161.6 301a3.4 3.4 0 1 0 6.8 0a3.4 3.4 0 1 0 -6.8 0M1164.2 301a3.4 3.4 0 1 0 6.8 0a3.4 3.4 0 1 0 -6.8 0M1172.1 301a3.4 3.4 0 1 0 6.8 0a3.4 3.4 0 1 0 -6.8 0M1174.8 327.1a3.4 3.4 0 1 0 6.8 0a3.4 3.4 0 1 0 -6.8 0M1177.4 327.1a3.4 3.4 0 1 0 6.8 0a3.4 3.4 0 1 0 -6.8 0M1180 327.1a3.4 3.4 0 1 0 6.8 0a3.4 3.4 0 1 0 -6.8 0M1182.7 222.7a3.4 3.4 0 1 0 6.8 0a3.4 3.4 0 1 0 -6.8 0M1190.6 196.6a3.4 3.4 0 1 0 6.8 0a3.4 3.4 0 1 0 -6.8 0M1193.2 196.6a3.4 3.4 0 1 0 6.8 0a3.4 3.4 0 1 0 -6.8 0M1198.5 222.7a3.4 3.4 0 1 0 6.8 0a3.4 3.4 0 1 0 -6.8 0M1201.1 170.4a3.4 3.4 0 1 0 6.8 0a3.4 3.4 0 1 0 -6.8 0M1209.1 170.4a3.4 3.4 0 1 0 6.8 0a3.4 3.4 0 1 0 -6.8 0M1211.7 222.7a3.4 3.4 0 1 0 6.8 0a3.4 3.4 0 1 0 -6.8 0M1214.3 248.8a3.4 3.4 0 1 0 6.8 0a3.4 3.4 0 1 0 -6.8 0M1217 222.7a3.4 3.4 0 1 0 6.8 0a3.4 3.4 0 1 0 -6.8 0M1219.6 222.7a3.4 3.4 0 1 0 6.8 0a3.4 3.4 0 1 0 -6.8 0M1227.5 274.9a3.4 3.4 0 1 0 6.8 0a3.4 3.4 0 1 0 -6.8 0M1230.2 248.8a3.4 3.4 0 1 0 6.8 0a3.4 3.4 0 1 0 -6.8 0M1232.8 301a3.4 3.4 0 1 0 6.8 0a3.4 3.4 0 1 0 -6.8 0M1235.4 327.1a3.4 3.4 0 1 0 6.8 0a3.4 3.4 0 1 0 -6.8 0M1238.1 353.2a3.4 3.4 0 1 0 6.8 0a3.4 3.4 0 1 0 -6.8 0M1246 379.3a3.4 3.4 0 1 0 6.8 0a3.4 3.4 0 1 0 -6.8 0M1248.6 405.4a3.4 3.4 0 1 0 6.8 0a3.4 3.4 0 1 0 -6.8 0M1251.3 379.3a3.4 3.4 0 1 0 6.8 0a3.4 3.4 0 1 0 -6.8 0M1253.9 353.2a3.4 3.4 0 1 0 6.8 0a3.4 3.4 0 1 0 -6.8 0M1256.6 327.1a3.4 3.4 0 1 0 6.8 0a3.4 3.4 0 1 0 -6.8 0M1272.4 327.1a3.4 3.4 0 1 0 6.8 0a3.4 3.4 0 1 0 -6.8 0M1275 327.1a3.4 3.4 0 1 0 6.8 0a3.4 3.4 0 1 0 -6.8 0M1282.9 301a3.4 3.4 0 1 0 6.8 0a3.4 3.4 0 1 0 -6.8 0M1285.6 301a3.4 3.4 0 1 0 6.8 0a3.4 3.4 0 1 0 -6.8 0M1288.2 327.1a3.4 3.4 0 1 0 6.8 0a3.4 3.4 0 1 0 -6.8 0M1290.9 353.2a3.4 3.4 0 1 0 6.8 0a3.4 3.4 0 1 0 -6.8 0M1293.5 379.3a3.4 3.4 0 1 0 6.8 0a3.4 3.4 0 1 0 -6.8 0M1301.4 379.3a3.4 3.4 0 1 0 6.8 0a3.4 3.4 0 1 0 -6.8 0M1304 327.1a3.4 3.4 0 1 0 6.8 0a3.4 3.4 0 1 0 -6.8 0M1306.7 353.2a3.4 3.4 0 1 0 6.8 0a3.4 3.4 0 1 0 -6.8 0M1309.3 353.2a3.4 3.4 0 1 0 6.8 0a3.4 3.4 0 1 0 -6.8 0M1312 353.2a3.4 3.4 0 1 0 6.8 0a3.4 3.4 0 1 0 -6.8 0M1319.9 353.2a3.4 3.4 0 1 0 6.8 0a3.4 3.4 0 1 0 -6.8 0M1322.5 353.2a3.4 3.4 0 1 0 6.8 0a3.4 3.4 0 1 0 -6.8 0M1325.2 405.4a3.4 3.4 0 1 0 6.8 0a3.4 3.4 0 1 0 -6.8 0M1327.8 405.4a3.4 3.4 0 1 0 6.8 0a3.4 3.4 0 1 0 -6.8 0M1330.4 405.4a3.4 3.4 0 1 0 6.8 0a3.4 3.4 0 1 0 -6.8 0M1338.3 405.4a3.4 3.4 0 1 0 6.8 0a3.4 3.4 0 1 0 -6.8 0M1341 405.4a3.4 3.4 0 1 0 6.8 0a3.4 3.4 0 1 0 -6.8 0M1343.6 405.4a3.4 3.4 0 1 0 6.8 0a3.4 3.4 0 1 0 -6.8 0M1346.3 353.2a3.4 3.4 0 1 0 6.8 0a3.4 3.4 0 1 0 -6.8 0M1348.9 353.2a3.4 3.4 0 1 0 6.8 0a3.4 3.4 0 1 0 -6.8 0M1356.8 379.3a3.4 3.4 0 1 0 6.8 0a3.4 3.4 0 1 0 -6.8 0M1359.5 405.4a3.4 3.4 0 1 0 6.8 0a3.4 3.4 0 1 0 -6.8 0M1362.1 457.7a3.4 3.4 0 1 0 6.8 0a3.4 3.4 0 1 0 -6.8 0M1364.7 483.8a3.4 3.4 0 1 0 6.8 0a3.4 3.4 0 1 0 -6.8 0M1367.4 431.6a3.4 3.4 0 1 0 6.8 0a3.4 3.4 0 1 0 -6.8 0M1375.3 431.6a3.4 3.4 0 1 0 6.8 0a3.4 3.4 0 1 0 -6.8 0M1377.9 405.4a3.4 3.4 0 1 0 6.8 0a3.4 3.4 0 1 0 -6.8 0M1380.6 405.4a3.4 3.4 0 1 0 6.8 0a3.4 3.4 0 1 0 -6.8 0M1383.2 327.1a3.4 3.4 0 1 0 6.8 0a3.4 3.4 0 1 0 -6.8 0M1385.8 274.9a3.4 3.4 0 1 0 6.8 0a3.4 3.4 0 1 0 -6.8 0M1393.8 301a3.4 3.4 0 1 0 6.8 0a3.4 3.4 0 1 0 -6.8 0M1396.4 301a3.4 3.4 0 1 0 6.8 0a3.4 3.4 0 1 0 -6.8 0M1399 379.3a3.4 3.4 0 1 0 6.8 0a3.4 3.4 0 1 0 -6.8 0M1412.2 379.3a3.4 3.4 0 1 0 6.8 0a3.4 3.4 0 1 0 -6.8 0M1414.9 353.2a3.4 3.4 0 1 0 6.8 0a3.4 3.4 0 1 0 -6.8 0M1417.5 379.3a3.4 3.4 0 1 0 6.8 0a3.4 3.4 0 1 0 -6.8 0M1420.1 327.1a3.4 3.4 0 1 0 6.8 0a3.4 3.4 0 1 0 -6.8 0M1422.8 327.1a3.4 3.4 0 1 0 6.8 0a3.4 3.4 0 1 0 -6.8 0M1430.7 248.8a3.4 3.4 0 1 0 6.8 0a3.4 3.4 0 1 0 -6.8 0M1433.3 248.8a3.4 3.4 0 1 0 6.8 0a3.4 3.4 0 1 0 -6.8 0M1436 301a3.4 3.4 0 1 0 6.8 0a3.4 3.4 0 1 0 -6.8 0M1438.6 327.1a3.4 3.4 0 1 0 6.8 0a3.4 3.4 0 1 0 -6.8 0M1441.2 327.1a3.4 3.4 0 1 0 6.8 0a3.4 3.4 0 1 0 -6.8 0M1449.2 327.1a3.4 3.4 0 1 0 6.8 0a3.4 3.4 0 1 0 -6.8 0M1451.8 353.2a3.4 3.4 0 1 0 6.8 0a3.4 3.4 0 1 0 -6.8 0M1454.4 353.2a3.4 3.4 0 1 0 6.8 0a3.4 3.4 0 1 0 -6.8 0M1457.1 353.2a3.4 3.4 0 1 0 6.8 0a3.4 3.4 0 1 0 -6.8 0M1459.7 327.1a3.4 3.4 0 1 0 6.8 0a3.4 3.4 0 1 0 -6.8 0M1467.6 379.3a3.4 3.4 0 1 0 6.8 0a3.4 3.4 0 1 0 -6.8 0M1470.3 379.3a3.4 3.4 0 1 0 6.8 0a3.4 3.4 0 1 0 -6.8 0M1472.9 405.4a3.4 3.4 0 1 0 6.8 0a3.4 3.4 0 1 0 -6.8 0M1475.5 405.4a3.4 3.4 0 1 0 6.8 0a3.4 3.4 0 1 0 -6.8 0M1478.2 405.4a3.4 3.4 0 1 0 6.8 0a3.4 3.4 0 1 0 -6.8 0M1486.1 405.4a3.4 3.4 0 1 0 6.8 0a3.4 3.4 0 1 0 -6.8 0M1488.7 274.9a3.4 3.4 0 1 0 6.8 0a3.4 3.4 0 1 0 -6.8 0M1491.4 301a3.4 3.4 0 1 0 6.8 0a3.4 3.4 0 1 0 -6.8 0M1494 274.9a3.4 3.4 0 1 0 6.8 0a3.4 3.4 0 1 0 -6.8 0M1496.7 274.9a3.4 3.4 0 1 0 6.8 0a3.4 3.4 0 1 0 -6.8 0M1504.6 222.7a3.4 3.4 0 1 0 6.8 0a3.4 3.4 0 1 0 -6.8 0M1507.2 301a3.4 3.4 0 1 0 6.8 0a3.4 3.4 0 1 0 -6.8 0M1509.8 301a3.4 3.4 0 1 0 6.8 0a3.4 3.4 0 1 0 -6.8 0M1512.5 301a3.4 3.4 0 1 0 6.8 0a3.4 3.4 0 1 0 -6.8 0M1515.1 222.7a3.4 3.4 0 1 0 6.8 0a3.4 3.4 0 1 0 -6.8 0M1523 274.9a3.4 3.4 0 1 0 6.8 0a3.4 3.4 0 1 0 -6.8 0M1525.7 274.9a3.4 3.4 0 1 0 6.8 0a3.4 3.4 0 1 0 -6.8 0M1528.3 327.1a3.4 3.4 0 1 0 6.8 0a3.4 3.4 0 1 0 -6.8 0M1531 327.1a3.4 3.4 0 1 0 6.8 0a3.4 3.4 0 1 0 -6.8 0M1533.6 405.4a3.4 3.4 0 1 0 6.8 0a3.4 3.4 0 1 0 -6.8 0" fill="#64a8e8" stroke="#7fb6e9" stroke-width="0.7"/>
</g>
<g filter="url(#sh)"><path d="M187.4 632.7H211.8" stroke="#f28536" stroke-width="3.8" stroke-linecap="round"/><circle cx="199.6" cy="632.7" r="3.7" fill="#f28536"/>
<path d="M371.8 632.7H398" stroke="#66a7e3" stroke-width="3.8" stroke-linecap="round"/><circle cx="384.9" cy="632.7" r="3.7" fill="#66a7e3"/></g>
<text x="461" y="37.3" font-family="'Liberation Sans','Noto Sans CJK SC',sans-serif" font-size="22.2" font-weight="bold" fill="#f2f2f2" textLength="564.5" lengthAdjust="spacing">量能指标对应中证全指数走势总图(8月11日量能指标：5)</text>
<g font-family="'Liberation Sans','Noto Sans CJK SC',sans-serif" font-size="18.67" fill="#f2f2f2">
<text x="216.5" y="639.4">中证全指</text>
<text x="400.6" y="639.4">量能指数</text>
<text x="647.5" y="637.4" textLength="607.5" lengthAdjust="spacing">备注：目前阶段量能指数为0-3是阶段底信号，12-15及以上是阶段顶信号</text>
</g>
</svg>
</div>
</body></html>
